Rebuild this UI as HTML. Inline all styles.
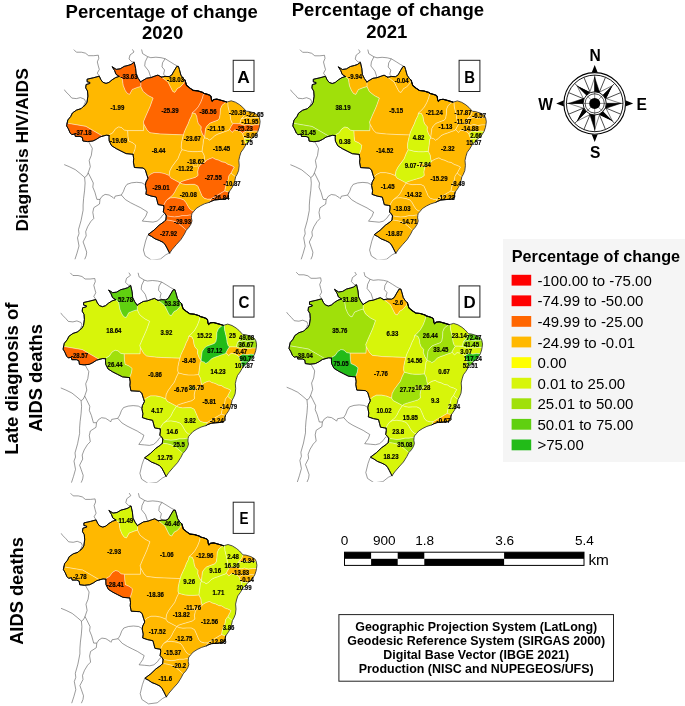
<!DOCTYPE html>
<html lang="en"><head><meta charset="utf-8"><title>Percentage of change</title>
<style>html,body{margin:0;padding:0;background:#fff}svg{display:block;will-change:transform}text{font-family:"Liberation Sans",sans-serif}</style></head><body>
<svg width="685" height="706" viewBox="0 0 685 706">
<rect width="685" height="706" fill="#fff"/>
<defs>
<clipPath id="clipA"><rect x="63.8" y="48" width="206" height="211.5"/></clipPath>
<clipPath id="clipB"><rect x="63.8" y="48" width="206" height="211.5"/></clipPath>
<clipPath id="clipC"><rect x="63.8" y="48" width="206" height="211.5"/></clipPath>
<clipPath id="clipD"><rect x="63.8" y="48" width="206" height="211.5"/></clipPath>
<clipPath id="clipE"><rect x="63.8" y="48" width="206" height="214.4"/></clipPath>
</defs>
<g transform="translate(0.0 0.0)">
<g fill="none" stroke="#484848" stroke-width="0.55" clip-path="url(#clipA)">
<path d="M73.8 49.6 L76.4 52.2 L81.5 52.2 L85.5 53.2 L88.6 55.7 L93.7 55.7 L98.3 55.2 L98.8 58.3 L97.3 61.9 L98.3 65.9 L99.3 69.5 L97.3 73.1 L99.3 76.0"/>
<path d="M132.4 49.4 L134.0 52.0 L130.0 55.0 L129.0 59.0 L132.0 62.0 L134.0 61.8"/>
<path d="M141.6 49.5 L142.6 53.6 L147.7 56.7 L145.2 61.8 L144.7 65.9 L148.7 71.0 L150.8 77.4"/>
<path d="M147.7 56.7 L150.8 57.7 L155.9 57.2 L161.0 57.7 L165.1 58.7 L170.2 61.8 L174.3 64.4 L177.4 66.0"/>
<path d="M165.1 58.7 L162.5 62.8 L162.0 66.9 L164.6 70.0 L163.6 74.1 L165.4 76.3"/>
<path d="M64.1 89.5 L66.1 92.0 L69.2 95.1 L71.8 98.1 L76.4 98.6 L80.4 97.6 L84.5 99.2 L85.5 101.7 L84.0 105.3 L83.2 106.4"/>
<path d="M88.7 141.8 L92.3 148.3 L91.3 155.4 L89.2 160.5 L90.3 166.7 L88.2 172.8 L86.7 175.9 L84.6 177.4"/>
<path d="M84.6 177.4 L80.5 173.8 L75.4 169.7 L69.3 166.7 L64.2 164.6"/>
<path d="M84.6 177.4 L85.1 183.0 L84.6 190.2 L83.6 198.4 L83.1 205.0 L83.1 210.2 L81.1 220.4 L78.5 229.6 L79.0 233.7 L77.5 237.8 L79.0 246.0 L77.0 253.1 L74.9 259.5"/>
<path d="M88.2 172.8 L90.3 176.9 L93.3 183.0 L92.8 187.1 L94.9 192.2 L96.9 199.4 L100.0 199.4 L102.0 196.3 L105.1 194.4 L109.1 195.0 L113.2 197.6 L114.2 198.6 L115.2 196.1 L121.3 195.0"/>
<path d="M121.3 195.0 L123.4 191.5 L124.9 187.4 L127.0 184.3 L131.6 182.8 L136.7 182.3 L141.8 182.8 L145.4 184.8"/>
<path d="M121.3 195.0 L125.4 199.6 L130.5 202.7 L135.7 205.3 L140.8 207.8 L144.9 210.4 L147.4 211.9 L145.9 216.0 L143.8 219.0 L142.3 221.1 L147.9 221.6 L153.0 222.1 L157.1 221.1 L160.7 218.0 L162.7 215.0 L164.3 213.9"/>
<path d="M100.0 199.4 L99.5 204.0 L93.8 207.7 L92.8 212.3 L93.8 218.4 L90.8 221.5 L87.7 226.6 L85.7 231.7 L86.2 235.8 L83.1 241.9 L84.6 246.0 L86.7 252.1 L86.2 255.7 L84.6 259.5"/>
<path d="M147.6 235.4 L145.6 241.0 L143.4 250.0 L145.1 255.8 L151.7 260.2 L160.4 259.1 L165.9 254.7 L169.4 253.0"/>
</g>
<g stroke="#ffffff" stroke-opacity="0.55" stroke-width="0.65" stroke-linejoin="round">
<path d="M67.1 123.2 L67.8 120.0 L70.7 116.5 L72.4 113.0 L76.5 110.1 L81.2 108.6 L83.2 106.6 L85.2 105.2 L87.0 102.2 L87.9 96.1 L87.5 91.0 L85.7 87.9 L86.1 84.5 L89.8 83.5 L89.8 82.4 L87.1 81.8 L87.1 79.2 L93.7 77.7 L99.3 76.2 L100.9 79.7 L102.9 82.3 L106.0 83.4 L109.0 82.4 L112.1 79.8 L115.6 77.6 L119.2 76.4 L122.3 78.9 L123.3 85.6 L125.3 90.4 L127.4 93.4 L129.6 94.2 L132.2 89.4 L137.2 87.4 L140.8 86.4 L143.2 91.4 L148.2 95.4 L153.2 98.0 L150.2 106.4 L146.2 115.4 L143.4 122.0 L144.0 124.5 L143.6 130.6 L127.6 130.6 L124.4 130.2 L121.5 127.6 L118.6 127.0 L115.6 128.8 L112.7 132.9 L109.6 134.6 L109.1 135.5 L106.3 135.2 L102.8 136.1 L101.0 135.2 L85.9 126.4 L67.1 123.2 Z" fill="#FFB800"/>
<path d="M140.7 82.0 L141.6 81.2 L146.7 78.2 L150.8 77.6 L154.9 76.1 L157.9 75.1 L161.5 77.1 L164.6 79.2 L168.2 82.2 L170.2 86.3 L172.8 91.4 L174.8 92.3 L177.4 88.4 L180.4 86.8 L183.5 83.3 L185.0 80.2 L186.5 85.3 L189.6 87.9 L193.2 90.4 L197.8 90.9 L202.9 92.5 L203.7 93.3 L202.6 97.7 L200.7 102.5 L198.2 106.9 L195.4 110.2 L192.4 112.8 L191.7 115.8 L189.7 119.6 L188.2 123.7 L186.2 127.8 L184.3 132.0 L183.5 134.9 L175.0 134.6 L160.0 134.0 L150.0 132.8 L147.0 130.0 L144.0 124.5 L143.4 122.0 L146.2 115.4 L150.2 106.4 L153.2 98.0 L148.2 95.4 L143.2 91.4 L140.8 86.4 L140.7 82.0 Z" fill="#FF6600"/>
<path d="M127.6 130.6 L143.6 130.6 L144.0 124.5 L147.0 130.0 L150.0 132.8 L160.0 134.0 L175.0 134.6 L183.5 134.9 L182.4 139.0 L181.5 143.5 L181.3 147.5 L182.0 149.6 L180.0 153.6 L178.0 158.7 L174.9 162.8 L171.9 166.9 L169.8 171.0 L169.2 175.6 L164.3 173.6 L159.2 172.6 L154.1 172.6 L150.0 174.6 L147.6 177.0 L146.9 175.1 L145.3 169.8 L143.0 168.0 L134.4 167.5 L133.4 162.1 L133.7 158.6 L133.0 154.3 L134.9 149.2 L135.5 145.1 L132.6 142.8 L128.5 141.0 L127.9 136.4 L127.6 130.6 Z" fill="#FFB800"/>
<path d="M246.4 143.8 L243.5 148.8 L241.0 152.2 L239.7 156.3 L238.8 160.4 L239.2 165.4 L238.6 170.5 L237.0 174.4 L235.6 176.8 L233.0 174.8 L231.0 173.0 L232.6 169.8 L234.2 167.0 L231.1 165.4 L228.0 164.4 L225.0 162.4 L221.9 161.9 L218.8 160.3 L215.3 159.3 L212.7 157.8 L209.6 158.8 L206.6 160.3 L205.5 161.5 L204.5 159.3 L204.0 155.2 L202.0 151.2 L203.0 144.0 L203.5 139.4 L204.8 137.6 L205.7 138.1 L207.7 138.6 L209.3 140.1 L211.8 138.6 L214.9 135.5 L217.9 134.0 L221.0 133.0 L225.1 131.4 L228.2 130.4 L229.6 129.4 L232.1 132.3 L234.6 129.9 L238.7 130.7 L241.2 132.0 L242.7 133.6 L243.5 136.2 L244.6 138.2 L245.2 142.0 L246.4 143.8 Z" fill="#FFB800"/>
<path d="M205.5 161.5 L206.6 160.3 L209.6 158.8 L212.7 157.8 L215.3 159.3 L218.8 160.3 L221.9 161.9 L225.0 162.4 L228.0 164.4 L231.1 165.4 L234.2 167.0 L232.6 169.8 L231.0 173.0 L228.9 175.9 L228.3 179.6 L226.7 183.3 L225.4 187.6 L224.8 191.0 L222.5 192.2 L217.5 195.2 L212.4 198.2 L210.7 199.2 L207.6 199.3 L204.0 198.2 L201.8 195.6 L200.4 192.2 L199.0 189.0 L197.7 186.0 L194.5 184.4 L190.2 184.4 L186.1 184.6 L182.5 184.0 L179.9 182.9 L181.4 181.6 L185.2 180.3 L190.3 178.8 L195.4 177.3 L198.0 175.4 L197.6 171.8 L198.4 167.7 L200.4 164.6 L204.0 162.6 L205.5 161.5 Z" fill="#FF6600"/>
<path d="M182.0 149.6 L184.5 150.2 L188.2 151.2 L192.3 151.6 L197.4 151.6 L202.0 151.2 L204.0 155.2 L204.5 159.3 L205.5 161.5 L204.0 162.6 L200.4 164.6 L198.4 167.7 L197.6 171.8 L198.0 175.4 L195.4 177.3 L190.3 178.8 L185.2 180.3 L181.4 181.6 L179.9 182.9 L174.9 180.2 L170.8 178.1 L169.2 175.6 L169.8 171.0 L171.9 166.9 L174.9 162.8 L178.0 158.7 L180.0 153.6 L182.0 149.6 Z" fill="#FFB800"/>
<path d="M192.4 112.8 L195.4 113.5 L196.9 116.6 L197.5 120.7 L198.5 123.7 L201.3 126.8 L201.0 129.9 L202.5 134.0 L204.8 137.6 L203.5 139.4 L203.0 144.0 L202.0 151.2 L197.4 151.6 L192.3 151.6 L188.2 151.2 L184.5 150.2 L182.0 149.6 L181.3 147.5 L181.5 143.5 L182.4 139.0 L183.5 134.9 L184.3 132.0 L186.2 127.8 L188.2 123.7 L189.7 119.6 L191.7 115.8 L192.4 112.8 Z" fill="#FFB800"/>
<path d="M203.7 93.3 L206.7 94.1 L209.8 95.2 L211.0 96.5 L211.5 99.8 L212.2 101.2 L213.6 99.6 L216.9 99.2 L221.0 100.3 L225.1 101.5 L226.6 102.0 L224.6 103.3 L222.0 105.4 L220.5 109.0 L220.2 114.1 L219.5 118.2 L217.9 120.2 L213.8 121.7 L209.8 123.3 L207.2 125.8 L205.7 128.4 L205.2 132.5 L204.7 136.5 L204.8 137.6 L202.5 134.0 L201.0 129.9 L201.3 126.8 L198.5 123.7 L197.5 120.7 L196.9 116.6 L195.4 113.5 L192.4 112.8 L195.4 110.2 L198.2 106.9 L200.7 102.5 L202.6 97.7 L203.7 93.3 Z" fill="#FF6600"/>
<path d="M226.6 102.0 L227.8 101.8 L228.2 106.9 L229.2 111.0 L230.2 115.1 L230.7 119.2 L231.7 122.2 L233.0 123.6 L231.2 126.3 L229.6 129.4 L228.2 130.4 L225.1 131.4 L221.0 133.0 L217.9 134.0 L214.9 135.5 L211.8 138.6 L209.3 140.1 L207.7 138.6 L205.7 138.1 L204.8 137.6 L204.7 136.5 L205.2 132.5 L205.7 128.4 L207.2 125.8 L209.8 123.3 L213.8 121.7 L217.9 120.2 L219.5 118.2 L220.2 114.1 L220.5 109.0 L222.0 105.4 L224.6 103.3 L226.6 102.0 Z" fill="#FFB800"/>
<path d="M119.2 76.4 L116.0 74.3 L114.6 70.6 L112.1 66.7 L116.2 69.4 L120.2 68.8 L124.2 66.4 L128.2 65.4 L131.2 64.4 L134.2 62.2 L135.6 68.4 L136.2 74.4 L138.2 78.4 L140.7 82.0 L140.8 86.4 L137.2 87.4 L132.2 89.4 L129.6 94.2 L127.4 93.4 L125.3 90.4 L123.3 85.6 L122.3 78.9 L119.2 76.4 Z" fill="#FF6600"/>
<path d="M161.5 77.1 L165.1 76.4 L169.2 76.6 L171.7 75.1 L174.3 70.5 L176.8 66.4 L178.4 66.4 L179.4 69.5 L180.9 75.1 L183.0 78.2 L185.0 80.2 L183.5 83.3 L180.4 86.8 L177.4 88.4 L174.8 92.3 L172.8 91.4 L170.2 86.3 L168.2 82.2 L164.6 79.2 L161.5 77.1 Z" fill="#FFB800"/>
<path d="M67.1 123.2 L85.9 126.4 L101.0 135.2 L102.8 136.1 L99.9 137.0 L96.4 139.3 L92.9 141.0 L87.6 141.6 L82.9 141.0 L82.4 137.5 L80.0 136.4 L75.3 136.4 L74.8 134.0 L71.8 134.6 L70.1 132.9 L68.3 128.8 L66.6 125.9 L67.1 123.2 Z" fill="#FF6600"/>
<path d="M109.1 135.5 L109.6 134.6 L112.7 132.9 L115.6 128.8 L118.6 127.0 L121.5 127.6 L124.4 130.2 L127.6 130.6 L127.9 136.4 L128.5 141.0 L132.6 142.8 L135.5 145.1 L134.9 149.2 L133.0 154.3 L126.1 153.6 L120.9 151.0 L116.2 148.6 L111.6 145.7 L109.2 141.0 L109.0 137.5 L109.1 135.5 Z" fill="#FFB800"/>
<path d="M227.8 101.8 L231.2 100.8 L235.5 102.2 L239.6 104.7 L242.7 107.3 L245.3 110.2 L246.3 111.2 L245.0 114.6 L243.0 117.1 L241.4 118.7 L240.4 121.7 L239.9 123.8 L236.3 123.6 L233.0 123.6 L231.7 122.2 L230.7 119.2 L230.2 115.1 L229.2 111.0 L228.2 106.9 L227.8 101.8 Z" fill="#FFB800"/>
<path d="M246.3 111.2 L249.0 111.4 L254.0 112.9 L258.0 115.2 L259.4 117.6 L254.7 117.6 L250.6 118.2 L247.6 117.1 L244.5 118.2 L241.4 118.7 L243.0 117.1 L245.0 114.6 L246.3 111.2 Z" fill="#FFB800"/>
<path d="M259.4 117.6 L260.1 121.5 L259.7 124.8 L255.7 124.8 L251.7 125.5 L247.6 124.4 L244.3 125.4 L239.9 123.8 L240.4 121.7 L241.4 118.7 L244.5 118.2 L247.6 117.1 L250.6 118.2 L254.7 117.6 L259.4 117.6 Z" fill="#FFB800"/>
<path d="M259.7 124.8 L259.2 127.4 L257.9 131.3 L254.2 131.0 L250.6 131.6 L246.5 131.0 L243.8 132.3 L242.7 133.6 L241.2 132.0 L238.7 130.7 L234.6 129.9 L232.1 132.3 L229.6 129.4 L231.2 126.3 L233.0 123.6 L236.3 123.6 L239.9 123.8 L244.3 125.4 L247.6 124.4 L251.7 125.5 L255.7 124.8 L259.7 124.8 Z" fill="#FF6600"/>
<path d="M257.9 131.3 L255.6 134.9 L253.2 137.5 L251.3 138.7 L248.0 138.7 L244.6 138.2 L243.5 136.2 L242.7 133.6 L243.8 132.3 L246.5 131.0 L250.6 131.6 L254.2 131.0 L257.9 131.3 Z" fill="#FFB800"/>
<path d="M251.3 138.7 L248.8 141.8 L246.4 143.8 L245.2 142.0 L244.6 138.2 L248.0 138.7 L251.3 138.7 Z" fill="#D7F50A"/>
<path d="M231.0 173.0 L233.0 174.8 L235.6 176.8 L234.8 180.6 L233.5 184.6 L232.1 187.5 L230.2 190.3 L228.9 192.2 L224.8 191.0 L225.4 187.6 L226.7 183.3 L228.3 179.6 L228.9 175.9 L231.0 173.0 Z" fill="#FFB800"/>
<path d="M210.7 199.2 L212.4 198.2 L217.5 195.2 L222.5 192.2 L224.8 191.0 L228.9 192.2 L228.4 194.4 L228.5 197.0 L227.0 198.5 L225.0 199.0 L221.9 199.3 L218.5 199.6 L214.6 200.0 L210.9 201.4 L209.6 202.2 L210.7 199.2 Z" fill="#FF6600"/>
<path d="M179.9 182.9 L182.5 184.0 L186.1 184.6 L190.2 184.4 L194.5 184.4 L197.7 186.0 L199.0 189.0 L200.4 192.2 L201.8 195.6 L204.0 198.2 L207.6 199.3 L210.7 199.2 L209.6 202.2 L204.5 203.8 L200.4 205.8 L196.3 208.4 L193.9 211.2 L191.8 210.6 L189.5 208.7 L187.8 206.1 L185.9 202.6 L183.7 199.9 L179.6 198.5 L174.5 197.7 L170.4 198.0 L166.8 199.9 L168.5 198.4 L172.4 195.3 L174.5 192.3 L176.5 188.2 L179.9 182.9 Z" fill="#FFB800"/>
<path d="M169.2 175.6 L170.8 178.1 L174.9 180.2 L179.9 182.9 L176.5 188.2 L174.5 192.3 L172.4 195.3 L168.5 198.4 L166.8 199.9 L164.8 203.0 L163.7 205.6 L162.2 205.3 L158.1 204.6 L157.1 200.7 L156.1 197.0 L151.0 196.0 L145.9 194.3 L146.4 190.4 L145.4 185.3 L145.9 182.3 L147.9 178.4 L147.6 177.0 L150.0 174.6 L154.1 172.6 L159.2 172.6 L164.3 173.6 L169.2 175.6 Z" fill="#FF6600"/>
<path d="M166.8 199.9 L170.4 198.0 L174.5 197.7 L179.6 198.5 L183.7 199.9 L185.9 202.6 L187.8 206.1 L189.5 208.7 L191.8 210.6 L193.9 211.2 L192.0 213.4 L191.6 215.2 L190.0 215.0 L186.7 215.6 L182.6 215.6 L178.5 216.6 L174.5 217.0 L170.4 216.5 L166.3 215.8 L165.2 213.9 L163.3 211.9 L163.9 207.8 L163.7 205.6 L164.8 203.0 L166.8 199.9 Z" fill="#FF6600"/>
<path d="M166.3 215.8 L170.4 216.5 L174.5 217.0 L178.5 216.6 L182.6 215.6 L186.7 215.6 L190.0 215.0 L191.6 215.2 L191.4 217.8 L192.0 220.9 L191.0 224.0 L189.0 227.2 L186.3 230.2 L184.2 228.2 L181.6 226.0 L178.5 223.4 L174.5 221.5 L170.4 220.5 L165.8 219.9 L166.3 215.8 Z" fill="#FF6600"/>
<path d="M165.8 219.9 L170.4 220.5 L174.5 221.5 L178.5 223.4 L181.6 226.0 L184.2 228.2 L186.3 230.2 L184.4 234.0 L181.0 239.4 L176.5 244.4 L172.2 249.4 L169.6 253.2 L168.5 251.0 L167.0 248.0 L165.3 244.9 L163.2 242.4 L159.1 240.4 L155.0 238.8 L151.5 236.4 L148.0 234.6 L154.0 230.1 L159.1 225.2 L164.2 221.6 L165.8 219.9 Z" fill="#FF6600"/>
<path d="M193.2 163.6 L197.6 163.6 L197.6 166.4 L193.2 166.4 Z" fill="#FFB800"/>
</g>
<path d="M67.1 123.2 L67.8 120.0 L70.7 116.5 L72.4 113.0 L76.5 110.1 L81.2 108.6 L83.2 106.6 L85.2 105.2 L87.0 102.2 L87.9 96.1 L87.5 91.0 L85.7 87.9 L86.1 84.5 L89.8 83.5 L89.8 82.4 L87.1 81.8 L87.1 79.2 L93.7 77.7 L99.3 76.2 L100.9 79.7 L102.9 82.3 L106.0 83.4 L109.0 82.4 L112.1 79.8 L115.6 77.6 L119.2 76.4 L116.0 74.3 L114.6 70.6 L112.1 66.7 L116.2 69.4 L120.2 68.8 L124.2 66.4 L128.2 65.4 L131.2 64.4 L134.2 62.2 L135.6 68.4 L136.2 74.4 L138.2 78.4 L140.7 82.0 L141.6 81.2 L146.7 78.2 L150.8 77.6 L154.9 76.1 L157.9 75.1 L161.5 77.1 L165.1 76.4 L169.2 76.6 L171.7 75.1 L174.3 70.5 L176.8 66.4 L178.4 66.4 L179.4 69.5 L180.9 75.1 L183.0 78.2 L185.0 80.2 L186.5 85.3 L189.6 87.9 L193.2 90.4 L197.8 90.9 L202.9 92.5 L203.7 93.3 L206.7 94.1 L209.8 95.2 L211.0 96.5 L211.5 99.8 L212.2 101.2 L213.6 99.6 L216.9 99.2 L221.0 100.3 L225.1 101.5 L226.6 102.0 L227.8 101.8 L231.2 100.8 L235.5 102.2 L239.6 104.7 L242.7 107.3 L245.3 110.2 L246.3 111.2 L249.0 111.4 L254.0 112.9 L258.0 115.2 L259.4 117.6 L260.1 121.5 L259.7 124.8 L259.2 127.4 L257.9 131.3 L255.6 134.9 L253.2 137.5 L251.3 138.7 L248.8 141.8 L246.4 143.8 L243.5 148.8 L241.0 152.2 L239.7 156.3 L238.8 160.4 L239.2 165.4 L238.6 170.5 L237.0 174.4 L235.6 176.8 L234.8 180.6 L233.5 184.6 L232.1 187.5 L230.2 190.3 L228.9 192.2 L228.4 194.4 L228.5 197.0 L227.0 198.5 L225.0 199.0 L221.9 199.3 L218.5 199.6 L214.6 200.0 L210.9 201.4 L209.6 202.2 L204.5 203.8 L200.4 205.8 L196.3 208.4 L193.9 211.2 L192.0 213.4 L191.6 215.2 L191.4 217.8 L192.0 220.9 L191.0 224.0 L189.0 227.2 L186.3 230.2 L184.4 234.0 L181.0 239.4 L176.5 244.4 L172.2 249.4 L169.6 253.2 L168.5 251.0 L167.0 248.0 L165.3 244.9 L163.2 242.4 L159.1 240.4 L155.0 238.8 L151.5 236.4 L148.0 234.6 L154.0 230.1 L159.1 225.2 L164.2 221.6 L165.8 219.9 L166.3 215.8 L165.2 213.9 L163.3 211.9 L163.9 207.8 L163.7 205.6 L162.2 205.3 L158.1 204.6 L157.1 200.7 L156.1 197.0 L151.0 196.0 L145.9 194.3 L146.4 190.4 L145.4 185.3 L145.9 182.3 L147.9 178.4 L147.6 177.0 L146.9 175.1 L145.3 169.8 L143.0 168.0 L134.4 167.5 L133.4 162.1 L133.7 158.6 L133.0 154.3 L126.1 153.6 L120.9 151.0 L116.2 148.6 L111.6 145.7 L109.2 141.0 L109.0 137.5 L109.1 135.5 L106.3 135.2 L102.8 136.1 L99.9 137.0 L96.4 139.3 L92.9 141.0 L87.6 141.6 L82.9 141.0 L82.4 137.5 L80.0 136.4 L75.3 136.4 L74.8 134.0 L71.8 134.6 L70.1 132.9 L68.3 128.8 L66.6 125.9 L67.1 123.2 Z" fill="none" stroke="#000" stroke-width="0.7" stroke-linejoin="miter"/>
<g fill="none" stroke="#000" stroke-width="0.9" stroke-linejoin="miter" stroke-linecap="round">
<path d="M67.1 123.2 L67.8 120.0 L70.7 116.5 L72.4 113.0 L76.5 110.1 L81.2 108.6 L83.2 106.6 L85.2 105.2 L87.0 102.2 L87.9 96.1 L87.5 91.0 L85.7 87.9 L86.1 84.5 L89.8 83.5 L89.8 82.4 L87.1 81.8 L87.1 79.2 L93.7 77.7 L99.3 76.2 L100.9 79.7 L102.9 82.3 L106.0 83.4 L109.0 82.4 L112.1 79.8 L115.6 77.6 L119.2 76.4"/>
<path d="M119.2 76.4 L116.0 74.3 L114.6 70.6 L112.1 66.7 L116.2 69.4 L120.2 68.8 L124.2 66.4 L128.2 65.4 L131.2 64.4 L134.2 62.2 L135.6 68.4 L136.2 74.4 L138.2 78.4 L140.7 82.0"/>
<path d="M140.7 82.0 L141.6 81.2 L146.7 78.2 L150.8 77.6 L154.9 76.1 L157.9 75.1 L161.5 77.1"/>
<path d="M161.5 77.1 L165.1 76.4 L169.2 76.6 L171.7 75.1 L174.3 70.5 L176.8 66.4 L178.4 66.4 L179.4 69.5 L180.9 75.1 L183.0 78.2 L185.0 80.2"/>
<path d="M185.0 80.2 L186.5 85.3 L189.6 87.9 L193.2 90.4 L197.8 90.9 L202.9 92.5 L203.7 93.3"/>
<path d="M203.7 93.3 L206.7 94.1 L209.8 95.2 L211.0 96.5 L211.5 99.8 L212.2 101.2 L213.6 99.6 L216.9 99.2 L221.0 100.3 L225.1 101.5 L226.6 102.0"/>
<path d="M67.1 123.2 L66.6 125.9 L68.3 128.8 L70.1 132.9 L71.8 134.6 L74.8 134.0 L75.3 136.4 L80.0 136.4 L82.4 137.5 L82.9 141.0 L87.6 141.6 L92.9 141.0 L96.4 139.3 L99.9 137.0 L102.8 136.1"/>
<path d="M102.8 136.1 L106.3 135.2 L109.1 135.5"/>
<path d="M109.1 135.5 L109.0 137.5 L109.2 141.0 L111.6 145.7 L116.2 148.6 L120.9 151.0 L126.1 153.6 L133.0 154.3"/>
<path d="M133.0 154.3 L133.7 158.6 L133.4 162.1 L134.4 167.5 L143.0 168.0 L145.3 169.8 L146.9 175.1 L147.6 177.0"/>
<path d="M147.6 177.0 L147.9 178.4 L145.9 182.3 L145.4 185.3 L146.4 190.4 L145.9 194.3 L151.0 196.0 L156.1 197.0 L157.1 200.7 L158.1 204.6 L162.2 205.3 L163.7 205.6"/>
<path d="M163.7 205.6 L163.9 207.8 L163.3 211.9 L165.2 213.9 L166.3 215.8"/>
<path d="M209.6 202.2 L210.9 201.4 L214.6 200.0 L218.5 199.6 L221.9 199.3 L225.0 199.0 L227.0 198.5 L228.5 197.0 L228.4 194.4 L228.9 192.2"/>
<path d="M165.8 219.9 L164.2 221.6 L159.1 225.2 L154.0 230.1 L148.0 234.6 L151.5 236.4 L155.0 238.8 L159.1 240.4 L163.2 242.4 L165.3 244.9 L167.0 248.0 L168.5 251.0 L169.6 253.2"/>
<path d="M166.3 215.8 L165.8 219.9"/>
<path stroke-width="1.15" d="M185.0 80.2 L186.5 85.3 L189.6 87.9 L193.2 90.4 L197.8 90.9 L202.9 92.5 L203.7 93.3 L206.7 94.1 L209.8 95.2 L211.0 96.5 L211.5 99.8 L212.2 101.2 L213.6 99.6 L216.9 99.2 L221.0 100.3 L225.1 101.5 L226.6 102.0"/>
</g>
<g font-size="6.5" font-weight="bold" text-anchor="middle" fill="#000" stroke="#000" stroke-width="0.16">
<text transform="translate(117.4 109.8) scale(0.93 1)">-1.99</text>
<text transform="translate(170.0 112.8) scale(0.93 1)">-25.39</text>
<text transform="translate(158.6 153.0) scale(0.93 1)">-8.44</text>
<text transform="translate(221.6 150.7) scale(0.93 1)">-15.45</text>
<text transform="translate(213.2 180.4) scale(0.93 1)">-27.55</text>
<text transform="translate(184.6 170.7) scale(0.93 1)">-11.22</text>
<text transform="translate(192.4 141.2) scale(0.93 1)">-23.67</text>
<text transform="translate(208.0 114.4) scale(0.93 1)">-36.56</text>
<text transform="translate(216.0 131.2) scale(0.93 1)">-21.15</text>
<text transform="translate(129.0 78.8) scale(0.93 1)">-33.63</text>
<text transform="translate(175.5 82.2) scale(0.93 1)">-18.03</text>
<text transform="translate(83.0 134.7) scale(0.93 1)">-37.18</text>
<text transform="translate(118.6 143.2) scale(0.93 1)">-19.69</text>
<text transform="translate(237.5 114.6) scale(0.93 1)">-20.35</text>
<text transform="translate(255.1 116.7) scale(0.93 1)">-22.65</text>
<text transform="translate(250.0 124.0) scale(0.93 1)">-11.95</text>
<text transform="translate(244.3 130.7) scale(0.93 1)">-25.23</text>
<text transform="translate(251.0 137.9) scale(0.93 1)">-8.09</text>
<text transform="translate(246.9 144.7) scale(0.93 1)">1.75</text>
<text transform="translate(232.1 186.0) scale(0.93 1)">-10.87</text>
<text transform="translate(220.8 200.0) scale(0.93 1)">-26.84</text>
<text transform="translate(188.2 196.8) scale(0.93 1)">-20.08</text>
<text transform="translate(161.0 189.5) scale(0.93 1)">-29.01</text>
<text transform="translate(175.8 210.6) scale(0.93 1)">-27.48</text>
<text transform="translate(182.5 223.5) scale(0.93 1)">-28.93</text>
<text transform="translate(168.6 236.2) scale(0.93 1)">-27.92</text>
<text transform="translate(195.8 163.8) scale(0.93 1)">-18.62</text>
</g>
</g>
<g transform="translate(226.2 0.1)">
<g fill="none" stroke="#484848" stroke-width="0.55" clip-path="url(#clipB)">
<path d="M73.8 49.6 L76.4 52.2 L81.5 52.2 L85.5 53.2 L88.6 55.7 L93.7 55.7 L98.3 55.2 L98.8 58.3 L97.3 61.9 L98.3 65.9 L99.3 69.5 L97.3 73.1 L99.3 76.0"/>
<path d="M132.4 49.4 L134.0 52.0 L130.0 55.0 L129.0 59.0 L132.0 62.0 L134.0 61.8"/>
<path d="M141.6 49.5 L142.6 53.6 L147.7 56.7 L145.2 61.8 L144.7 65.9 L148.7 71.0 L150.8 77.4"/>
<path d="M147.7 56.7 L150.8 57.7 L155.9 57.2 L161.0 57.7 L165.1 58.7 L170.2 61.8 L174.3 64.4 L177.4 66.0"/>
<path d="M165.1 58.7 L162.5 62.8 L162.0 66.9 L164.6 70.0 L163.6 74.1 L165.4 76.3"/>
<path d="M64.1 89.5 L66.1 92.0 L69.2 95.1 L71.8 98.1 L76.4 98.6 L80.4 97.6 L84.5 99.2 L85.5 101.7 L84.0 105.3 L83.2 106.4"/>
<path d="M88.7 141.8 L92.3 148.3 L91.3 155.4 L89.2 160.5 L90.3 166.7 L88.2 172.8 L86.7 175.9 L84.6 177.4"/>
<path d="M84.6 177.4 L80.5 173.8 L75.4 169.7 L69.3 166.7 L64.2 164.6"/>
<path d="M84.6 177.4 L85.1 183.0 L84.6 190.2 L83.6 198.4 L83.1 205.0 L83.1 210.2 L81.1 220.4 L78.5 229.6 L79.0 233.7 L77.5 237.8 L79.0 246.0 L77.0 253.1 L74.9 259.5"/>
<path d="M88.2 172.8 L90.3 176.9 L93.3 183.0 L92.8 187.1 L94.9 192.2 L96.9 199.4 L100.0 199.4 L102.0 196.3 L105.1 194.4 L109.1 195.0 L113.2 197.6 L114.2 198.6 L115.2 196.1 L121.3 195.0"/>
<path d="M121.3 195.0 L123.4 191.5 L124.9 187.4 L127.0 184.3 L131.6 182.8 L136.7 182.3 L141.8 182.8 L145.4 184.8"/>
<path d="M121.3 195.0 L125.4 199.6 L130.5 202.7 L135.7 205.3 L140.8 207.8 L144.9 210.4 L147.4 211.9 L145.9 216.0 L143.8 219.0 L142.3 221.1 L147.9 221.6 L153.0 222.1 L157.1 221.1 L160.7 218.0 L162.7 215.0 L164.3 213.9"/>
<path d="M100.0 199.4 L99.5 204.0 L93.8 207.7 L92.8 212.3 L93.8 218.4 L90.8 221.5 L87.7 226.6 L85.7 231.7 L86.2 235.8 L83.1 241.9 L84.6 246.0 L86.7 252.1 L86.2 255.7 L84.6 259.5"/>
<path d="M147.6 235.4 L145.6 241.0 L143.4 250.0 L145.1 255.8 L151.7 260.2 L160.4 259.1 L165.9 254.7 L169.4 253.0"/>
</g>
<g stroke="#ffffff" stroke-opacity="0.55" stroke-width="0.65" stroke-linejoin="round">
<path d="M67.1 123.2 L67.8 120.0 L70.7 116.5 L72.4 113.0 L76.5 110.1 L81.2 108.6 L83.2 106.6 L85.2 105.2 L87.0 102.2 L87.9 96.1 L87.5 91.0 L85.7 87.9 L86.1 84.5 L89.8 83.5 L89.8 82.4 L87.1 81.8 L87.1 79.2 L93.7 77.7 L99.3 76.2 L100.9 79.7 L102.9 82.3 L106.0 83.4 L109.0 82.4 L112.1 79.8 L115.6 77.6 L119.2 76.4 L122.3 78.9 L123.3 85.6 L125.3 90.4 L127.4 93.4 L129.6 94.2 L132.2 89.4 L137.2 87.4 L140.8 86.4 L143.2 91.4 L148.2 95.4 L153.2 98.0 L150.2 106.4 L146.2 115.4 L143.4 122.0 L144.0 124.5 L143.6 130.6 L127.6 130.6 L124.4 130.2 L121.5 127.6 L118.6 127.0 L115.6 128.8 L112.7 132.9 L109.6 134.6 L109.1 135.5 L106.3 135.2 L102.8 136.1 L101.0 135.2 L85.9 126.4 L67.1 123.2 Z" fill="#A0E00A"/>
<path d="M140.7 82.0 L141.6 81.2 L146.7 78.2 L150.8 77.6 L154.9 76.1 L157.9 75.1 L161.5 77.1 L164.6 79.2 L168.2 82.2 L170.2 86.3 L172.8 91.4 L174.8 92.3 L177.4 88.4 L180.4 86.8 L183.5 83.3 L185.0 80.2 L186.5 85.3 L189.6 87.9 L193.2 90.4 L197.8 90.9 L202.9 92.5 L203.7 93.3 L202.6 97.7 L200.7 102.5 L198.2 106.9 L195.4 110.2 L192.4 112.8 L191.7 115.8 L189.7 119.6 L188.2 123.7 L186.2 127.8 L184.3 132.0 L183.5 134.9 L175.0 134.6 L160.0 134.0 L150.0 132.8 L147.0 130.0 L144.0 124.5 L143.4 122.0 L146.2 115.4 L150.2 106.4 L153.2 98.0 L148.2 95.4 L143.2 91.4 L140.8 86.4 L140.7 82.0 Z" fill="#FFB800"/>
<path d="M127.6 130.6 L143.6 130.6 L144.0 124.5 L147.0 130.0 L150.0 132.8 L160.0 134.0 L175.0 134.6 L183.5 134.9 L182.4 139.0 L181.5 143.5 L181.3 147.5 L182.0 149.6 L180.0 153.6 L178.0 158.7 L174.9 162.8 L171.9 166.9 L169.8 171.0 L169.2 175.6 L164.3 173.6 L159.2 172.6 L154.1 172.6 L150.0 174.6 L147.6 177.0 L146.9 175.1 L145.3 169.8 L143.0 168.0 L134.4 167.5 L133.4 162.1 L133.7 158.6 L133.0 154.3 L134.9 149.2 L135.5 145.1 L132.6 142.8 L128.5 141.0 L127.9 136.4 L127.6 130.6 Z" fill="#FFB800"/>
<path d="M246.4 143.8 L243.5 148.8 L241.0 152.2 L239.7 156.3 L238.8 160.4 L239.2 165.4 L238.6 170.5 L237.0 174.4 L235.6 176.8 L233.0 174.8 L231.0 173.0 L232.6 169.8 L234.2 167.0 L231.1 165.4 L228.0 164.4 L225.0 162.4 L221.9 161.9 L218.8 160.3 L215.3 159.3 L212.7 157.8 L209.6 158.8 L206.6 160.3 L205.5 161.5 L204.5 159.3 L204.0 155.2 L202.0 151.2 L203.0 144.0 L203.5 139.4 L204.8 137.6 L205.7 138.1 L207.7 138.6 L209.3 140.1 L211.8 138.6 L214.9 135.5 L217.9 134.0 L221.0 133.0 L225.1 131.4 L228.2 130.4 L229.6 129.4 L232.1 132.3 L234.6 129.9 L238.7 130.7 L241.2 132.0 L242.7 133.6 L243.5 136.2 L244.6 138.2 L245.2 142.0 L246.4 143.8 Z" fill="#FFB800"/>
<path d="M205.5 161.5 L206.6 160.3 L209.6 158.8 L212.7 157.8 L215.3 159.3 L218.8 160.3 L221.9 161.9 L225.0 162.4 L228.0 164.4 L231.1 165.4 L234.2 167.0 L232.6 169.8 L231.0 173.0 L228.9 175.9 L228.3 179.6 L226.7 183.3 L225.4 187.6 L224.8 191.0 L222.5 192.2 L217.5 195.2 L212.4 198.2 L210.7 199.2 L207.6 199.3 L204.0 198.2 L201.8 195.6 L200.4 192.2 L199.0 189.0 L197.7 186.0 L194.5 184.4 L190.2 184.4 L186.1 184.6 L182.5 184.0 L179.9 182.9 L181.4 181.6 L185.2 180.3 L190.3 178.8 L195.4 177.3 L198.0 175.4 L197.6 171.8 L198.4 167.7 L200.4 164.6 L204.0 162.6 L205.5 161.5 Z" fill="#FFB800"/>
<path d="M182.0 149.6 L184.5 150.2 L188.2 151.2 L192.3 151.6 L197.4 151.6 L202.0 151.2 L204.0 155.2 L204.5 159.3 L205.5 161.5 L204.0 162.6 L200.4 164.6 L198.4 167.7 L197.6 171.8 L198.0 175.4 L195.4 177.3 L190.3 178.8 L185.2 180.3 L181.4 181.6 L179.9 182.9 L174.9 180.2 L170.8 178.1 L169.2 175.6 L169.8 171.0 L171.9 166.9 L174.9 162.8 L178.0 158.7 L180.0 153.6 L182.0 149.6 Z" fill="#D7F50A"/>
<path d="M192.4 112.8 L195.4 113.5 L196.9 116.6 L197.5 120.7 L198.5 123.7 L201.3 126.8 L201.0 129.9 L202.5 134.0 L204.8 137.6 L203.5 139.4 L203.0 144.0 L202.0 151.2 L197.4 151.6 L192.3 151.6 L188.2 151.2 L184.5 150.2 L182.0 149.6 L181.3 147.5 L181.5 143.5 L182.4 139.0 L183.5 134.9 L184.3 132.0 L186.2 127.8 L188.2 123.7 L189.7 119.6 L191.7 115.8 L192.4 112.8 Z" fill="#D7F50A"/>
<path d="M203.7 93.3 L206.7 94.1 L209.8 95.2 L211.0 96.5 L211.5 99.8 L212.2 101.2 L213.6 99.6 L216.9 99.2 L221.0 100.3 L225.1 101.5 L226.6 102.0 L224.6 103.3 L222.0 105.4 L220.5 109.0 L220.2 114.1 L219.5 118.2 L217.9 120.2 L213.8 121.7 L209.8 123.3 L207.2 125.8 L205.7 128.4 L205.2 132.5 L204.7 136.5 L204.8 137.6 L202.5 134.0 L201.0 129.9 L201.3 126.8 L198.5 123.7 L197.5 120.7 L196.9 116.6 L195.4 113.5 L192.4 112.8 L195.4 110.2 L198.2 106.9 L200.7 102.5 L202.6 97.7 L203.7 93.3 Z" fill="#FFB800"/>
<path d="M226.6 102.0 L227.8 101.8 L228.2 106.9 L229.2 111.0 L230.2 115.1 L230.7 119.2 L231.7 122.2 L233.0 123.6 L231.2 126.3 L229.6 129.4 L228.2 130.4 L225.1 131.4 L221.0 133.0 L217.9 134.0 L214.9 135.5 L211.8 138.6 L209.3 140.1 L207.7 138.6 L205.7 138.1 L204.8 137.6 L204.7 136.5 L205.2 132.5 L205.7 128.4 L207.2 125.8 L209.8 123.3 L213.8 121.7 L217.9 120.2 L219.5 118.2 L220.2 114.1 L220.5 109.0 L222.0 105.4 L224.6 103.3 L226.6 102.0 Z" fill="#FFB800"/>
<path d="M119.2 76.4 L116.0 74.3 L114.6 70.6 L112.1 66.7 L116.2 69.4 L120.2 68.8 L124.2 66.4 L128.2 65.4 L131.2 64.4 L134.2 62.2 L135.6 68.4 L136.2 74.4 L138.2 78.4 L140.7 82.0 L140.8 86.4 L137.2 87.4 L132.2 89.4 L129.6 94.2 L127.4 93.4 L125.3 90.4 L123.3 85.6 L122.3 78.9 L119.2 76.4 Z" fill="#FFB800"/>
<path d="M161.5 77.1 L165.1 76.4 L169.2 76.6 L171.7 75.1 L174.3 70.5 L176.8 66.4 L178.4 66.4 L179.4 69.5 L180.9 75.1 L183.0 78.2 L185.0 80.2 L183.5 83.3 L180.4 86.8 L177.4 88.4 L174.8 92.3 L172.8 91.4 L170.2 86.3 L168.2 82.2 L164.6 79.2 L161.5 77.1 Z" fill="#FFB800"/>
<path d="M67.1 123.2 L85.9 126.4 L101.0 135.2 L102.8 136.1 L99.9 137.0 L96.4 139.3 L92.9 141.0 L87.6 141.6 L82.9 141.0 L82.4 137.5 L80.0 136.4 L75.3 136.4 L74.8 134.0 L71.8 134.6 L70.1 132.9 L68.3 128.8 L66.6 125.9 L67.1 123.2 Z" fill="#A0E00A"/>
<path d="M109.1 135.5 L109.6 134.6 L112.7 132.9 L115.6 128.8 L118.6 127.0 L121.5 127.6 L124.4 130.2 L127.6 130.6 L127.9 136.4 L128.5 141.0 L132.6 142.8 L135.5 145.1 L134.9 149.2 L133.0 154.3 L126.1 153.6 L120.9 151.0 L116.2 148.6 L111.6 145.7 L109.2 141.0 L109.0 137.5 L109.1 135.5 Z" fill="#D7F50A"/>
<path d="M227.8 101.8 L231.2 100.8 L235.5 102.2 L239.6 104.7 L242.7 107.3 L245.3 110.2 L246.3 111.2 L245.0 114.6 L243.0 117.1 L241.4 118.7 L240.4 121.7 L239.9 123.8 L236.3 123.6 L233.0 123.6 L231.7 122.2 L230.7 119.2 L230.2 115.1 L229.2 111.0 L228.2 106.9 L227.8 101.8 Z" fill="#FFB800"/>
<path d="M246.3 111.2 L249.0 111.4 L254.0 112.9 L258.0 115.2 L259.4 117.6 L254.7 117.6 L250.6 118.2 L247.6 117.1 L244.5 118.2 L241.4 118.7 L243.0 117.1 L245.0 114.6 L246.3 111.2 Z" fill="#FFB800"/>
<path d="M259.4 117.6 L260.1 121.5 L259.7 124.8 L255.7 124.8 L251.7 125.5 L247.6 124.4 L244.3 125.4 L239.9 123.8 L240.4 121.7 L241.4 118.7 L244.5 118.2 L247.6 117.1 L250.6 118.2 L254.7 117.6 L259.4 117.6 Z" fill="#FFB800"/>
<path d="M259.7 124.8 L259.2 127.4 L257.9 131.3 L254.2 131.0 L250.6 131.6 L246.5 131.0 L243.8 132.3 L242.7 133.6 L241.2 132.0 L238.7 130.7 L234.6 129.9 L232.1 132.3 L229.6 129.4 L231.2 126.3 L233.0 123.6 L236.3 123.6 L239.9 123.8 L244.3 125.4 L247.6 124.4 L251.7 125.5 L255.7 124.8 L259.7 124.8 Z" fill="#FFB800"/>
<path d="M257.9 131.3 L255.6 134.9 L253.2 137.5 L251.3 138.7 L248.0 138.7 L244.6 138.2 L243.5 136.2 L242.7 133.6 L243.8 132.3 L246.5 131.0 L250.6 131.6 L254.2 131.0 L257.9 131.3 Z" fill="#D7F50A"/>
<path d="M251.3 138.7 L248.8 141.8 L246.4 143.8 L245.2 142.0 L244.6 138.2 L248.0 138.7 L251.3 138.7 Z" fill="#D7F50A"/>
<path d="M231.0 173.0 L233.0 174.8 L235.6 176.8 L234.8 180.6 L233.5 184.6 L232.1 187.5 L230.2 190.3 L228.9 192.2 L224.8 191.0 L225.4 187.6 L226.7 183.3 L228.3 179.6 L228.9 175.9 L231.0 173.0 Z" fill="#FFB800"/>
<path d="M210.7 199.2 L212.4 198.2 L217.5 195.2 L222.5 192.2 L224.8 191.0 L228.9 192.2 L228.4 194.4 L228.5 197.0 L227.0 198.5 L225.0 199.0 L221.9 199.3 L218.5 199.6 L214.6 200.0 L210.9 201.4 L209.6 202.2 L210.7 199.2 Z" fill="#FFB800"/>
<path d="M179.9 182.9 L182.5 184.0 L186.1 184.6 L190.2 184.4 L194.5 184.4 L197.7 186.0 L199.0 189.0 L200.4 192.2 L201.8 195.6 L204.0 198.2 L207.6 199.3 L210.7 199.2 L209.6 202.2 L204.5 203.8 L200.4 205.8 L196.3 208.4 L193.9 211.2 L191.8 210.6 L189.5 208.7 L187.8 206.1 L185.9 202.6 L183.7 199.9 L179.6 198.5 L174.5 197.7 L170.4 198.0 L166.8 199.9 L168.5 198.4 L172.4 195.3 L174.5 192.3 L176.5 188.2 L179.9 182.9 Z" fill="#FFB800"/>
<path d="M169.2 175.6 L170.8 178.1 L174.9 180.2 L179.9 182.9 L176.5 188.2 L174.5 192.3 L172.4 195.3 L168.5 198.4 L166.8 199.9 L164.8 203.0 L163.7 205.6 L162.2 205.3 L158.1 204.6 L157.1 200.7 L156.1 197.0 L151.0 196.0 L145.9 194.3 L146.4 190.4 L145.4 185.3 L145.9 182.3 L147.9 178.4 L147.6 177.0 L150.0 174.6 L154.1 172.6 L159.2 172.6 L164.3 173.6 L169.2 175.6 Z" fill="#FFB800"/>
<path d="M166.8 199.9 L170.4 198.0 L174.5 197.7 L179.6 198.5 L183.7 199.9 L185.9 202.6 L187.8 206.1 L189.5 208.7 L191.8 210.6 L193.9 211.2 L192.0 213.4 L191.6 215.2 L190.0 215.0 L186.7 215.6 L182.6 215.6 L178.5 216.6 L174.5 217.0 L170.4 216.5 L166.3 215.8 L165.2 213.9 L163.3 211.9 L163.9 207.8 L163.7 205.6 L164.8 203.0 L166.8 199.9 Z" fill="#FFB800"/>
<path d="M166.3 215.8 L170.4 216.5 L174.5 217.0 L178.5 216.6 L182.6 215.6 L186.7 215.6 L190.0 215.0 L191.6 215.2 L191.4 217.8 L192.0 220.9 L191.0 224.0 L189.0 227.2 L186.3 230.2 L184.2 228.2 L181.6 226.0 L178.5 223.4 L174.5 221.5 L170.4 220.5 L165.8 219.9 L166.3 215.8 Z" fill="#FFB800"/>
<path d="M165.8 219.9 L170.4 220.5 L174.5 221.5 L178.5 223.4 L181.6 226.0 L184.2 228.2 L186.3 230.2 L184.4 234.0 L181.0 239.4 L176.5 244.4 L172.2 249.4 L169.6 253.2 L168.5 251.0 L167.0 248.0 L165.3 244.9 L163.2 242.4 L159.1 240.4 L155.0 238.8 L151.5 236.4 L148.0 234.6 L154.0 230.1 L159.1 225.2 L164.2 221.6 L165.8 219.9 Z" fill="#FFB800"/>
<path d="M193.2 163.6 L197.6 163.6 L197.6 166.4 L193.2 166.4 Z" fill="#FFB800"/>
</g>
<path d="M67.1 123.2 L67.8 120.0 L70.7 116.5 L72.4 113.0 L76.5 110.1 L81.2 108.6 L83.2 106.6 L85.2 105.2 L87.0 102.2 L87.9 96.1 L87.5 91.0 L85.7 87.9 L86.1 84.5 L89.8 83.5 L89.8 82.4 L87.1 81.8 L87.1 79.2 L93.7 77.7 L99.3 76.2 L100.9 79.7 L102.9 82.3 L106.0 83.4 L109.0 82.4 L112.1 79.8 L115.6 77.6 L119.2 76.4 L116.0 74.3 L114.6 70.6 L112.1 66.7 L116.2 69.4 L120.2 68.8 L124.2 66.4 L128.2 65.4 L131.2 64.4 L134.2 62.2 L135.6 68.4 L136.2 74.4 L138.2 78.4 L140.7 82.0 L141.6 81.2 L146.7 78.2 L150.8 77.6 L154.9 76.1 L157.9 75.1 L161.5 77.1 L165.1 76.4 L169.2 76.6 L171.7 75.1 L174.3 70.5 L176.8 66.4 L178.4 66.4 L179.4 69.5 L180.9 75.1 L183.0 78.2 L185.0 80.2 L186.5 85.3 L189.6 87.9 L193.2 90.4 L197.8 90.9 L202.9 92.5 L203.7 93.3 L206.7 94.1 L209.8 95.2 L211.0 96.5 L211.5 99.8 L212.2 101.2 L213.6 99.6 L216.9 99.2 L221.0 100.3 L225.1 101.5 L226.6 102.0 L227.8 101.8 L231.2 100.8 L235.5 102.2 L239.6 104.7 L242.7 107.3 L245.3 110.2 L246.3 111.2 L249.0 111.4 L254.0 112.9 L258.0 115.2 L259.4 117.6 L260.1 121.5 L259.7 124.8 L259.2 127.4 L257.9 131.3 L255.6 134.9 L253.2 137.5 L251.3 138.7 L248.8 141.8 L246.4 143.8 L243.5 148.8 L241.0 152.2 L239.7 156.3 L238.8 160.4 L239.2 165.4 L238.6 170.5 L237.0 174.4 L235.6 176.8 L234.8 180.6 L233.5 184.6 L232.1 187.5 L230.2 190.3 L228.9 192.2 L228.4 194.4 L228.5 197.0 L227.0 198.5 L225.0 199.0 L221.9 199.3 L218.5 199.6 L214.6 200.0 L210.9 201.4 L209.6 202.2 L204.5 203.8 L200.4 205.8 L196.3 208.4 L193.9 211.2 L192.0 213.4 L191.6 215.2 L191.4 217.8 L192.0 220.9 L191.0 224.0 L189.0 227.2 L186.3 230.2 L184.4 234.0 L181.0 239.4 L176.5 244.4 L172.2 249.4 L169.6 253.2 L168.5 251.0 L167.0 248.0 L165.3 244.9 L163.2 242.4 L159.1 240.4 L155.0 238.8 L151.5 236.4 L148.0 234.6 L154.0 230.1 L159.1 225.2 L164.2 221.6 L165.8 219.9 L166.3 215.8 L165.2 213.9 L163.3 211.9 L163.9 207.8 L163.7 205.6 L162.2 205.3 L158.1 204.6 L157.1 200.7 L156.1 197.0 L151.0 196.0 L145.9 194.3 L146.4 190.4 L145.4 185.3 L145.9 182.3 L147.9 178.4 L147.6 177.0 L146.9 175.1 L145.3 169.8 L143.0 168.0 L134.4 167.5 L133.4 162.1 L133.7 158.6 L133.0 154.3 L126.1 153.6 L120.9 151.0 L116.2 148.6 L111.6 145.7 L109.2 141.0 L109.0 137.5 L109.1 135.5 L106.3 135.2 L102.8 136.1 L99.9 137.0 L96.4 139.3 L92.9 141.0 L87.6 141.6 L82.9 141.0 L82.4 137.5 L80.0 136.4 L75.3 136.4 L74.8 134.0 L71.8 134.6 L70.1 132.9 L68.3 128.8 L66.6 125.9 L67.1 123.2 Z" fill="none" stroke="#000" stroke-width="0.7" stroke-linejoin="miter"/>
<g fill="none" stroke="#000" stroke-width="0.9" stroke-linejoin="miter" stroke-linecap="round">
<path d="M67.1 123.2 L67.8 120.0 L70.7 116.5 L72.4 113.0 L76.5 110.1 L81.2 108.6 L83.2 106.6 L85.2 105.2 L87.0 102.2 L87.9 96.1 L87.5 91.0 L85.7 87.9 L86.1 84.5 L89.8 83.5 L89.8 82.4 L87.1 81.8 L87.1 79.2 L93.7 77.7 L99.3 76.2 L100.9 79.7 L102.9 82.3 L106.0 83.4 L109.0 82.4 L112.1 79.8 L115.6 77.6 L119.2 76.4"/>
<path d="M119.2 76.4 L116.0 74.3 L114.6 70.6 L112.1 66.7 L116.2 69.4 L120.2 68.8 L124.2 66.4 L128.2 65.4 L131.2 64.4 L134.2 62.2 L135.6 68.4 L136.2 74.4 L138.2 78.4 L140.7 82.0"/>
<path d="M140.7 82.0 L141.6 81.2 L146.7 78.2 L150.8 77.6 L154.9 76.1 L157.9 75.1 L161.5 77.1"/>
<path d="M161.5 77.1 L165.1 76.4 L169.2 76.6 L171.7 75.1 L174.3 70.5 L176.8 66.4 L178.4 66.4 L179.4 69.5 L180.9 75.1 L183.0 78.2 L185.0 80.2"/>
<path d="M185.0 80.2 L186.5 85.3 L189.6 87.9 L193.2 90.4 L197.8 90.9 L202.9 92.5 L203.7 93.3"/>
<path d="M203.7 93.3 L206.7 94.1 L209.8 95.2 L211.0 96.5 L211.5 99.8 L212.2 101.2 L213.6 99.6 L216.9 99.2 L221.0 100.3 L225.1 101.5 L226.6 102.0"/>
<path d="M67.1 123.2 L66.6 125.9 L68.3 128.8 L70.1 132.9 L71.8 134.6 L74.8 134.0 L75.3 136.4 L80.0 136.4 L82.4 137.5 L82.9 141.0 L87.6 141.6 L92.9 141.0 L96.4 139.3 L99.9 137.0 L102.8 136.1"/>
<path d="M102.8 136.1 L106.3 135.2 L109.1 135.5"/>
<path d="M109.1 135.5 L109.0 137.5 L109.2 141.0 L111.6 145.7 L116.2 148.6 L120.9 151.0 L126.1 153.6 L133.0 154.3"/>
<path d="M133.0 154.3 L133.7 158.6 L133.4 162.1 L134.4 167.5 L143.0 168.0 L145.3 169.8 L146.9 175.1 L147.6 177.0"/>
<path d="M147.6 177.0 L147.9 178.4 L145.9 182.3 L145.4 185.3 L146.4 190.4 L145.9 194.3 L151.0 196.0 L156.1 197.0 L157.1 200.7 L158.1 204.6 L162.2 205.3 L163.7 205.6"/>
<path d="M163.7 205.6 L163.9 207.8 L163.3 211.9 L165.2 213.9 L166.3 215.8"/>
<path d="M209.6 202.2 L210.9 201.4 L214.6 200.0 L218.5 199.6 L221.9 199.3 L225.0 199.0 L227.0 198.5 L228.5 197.0 L228.4 194.4 L228.9 192.2"/>
<path d="M165.8 219.9 L164.2 221.6 L159.1 225.2 L154.0 230.1 L148.0 234.6 L151.5 236.4 L155.0 238.8 L159.1 240.4 L163.2 242.4 L165.3 244.9 L167.0 248.0 L168.5 251.0 L169.6 253.2"/>
<path d="M166.3 215.8 L165.8 219.9"/>
<path stroke-width="1.15" d="M185.0 80.2 L186.5 85.3 L189.6 87.9 L193.2 90.4 L197.8 90.9 L202.9 92.5 L203.7 93.3 L206.7 94.1 L209.8 95.2 L211.0 96.5 L211.5 99.8 L212.2 101.2 L213.6 99.6 L216.9 99.2 L221.0 100.3 L225.1 101.5 L226.6 102.0"/>
</g>
<g font-size="6.5" font-weight="bold" text-anchor="middle" fill="#000" stroke="#000" stroke-width="0.16">
<text transform="translate(116.8 110.2) scale(0.93 1)">38.19</text>
<text transform="translate(170.0 113.1) scale(0.93 1)">-5.15</text>
<text transform="translate(158.6 153.3) scale(0.93 1)">-14.52</text>
<text transform="translate(221.6 151.0) scale(0.93 1)">-2.32</text>
<text transform="translate(212.8 180.7) scale(0.93 1)">-15.29</text>
<text transform="translate(184.3 168.3) scale(0.93 1)">9.07</text>
<text transform="translate(192.4 139.9) scale(0.93 1)">4.82</text>
<text transform="translate(208.0 114.7) scale(0.93 1)">-21.24</text>
<text transform="translate(219.3 129.3) scale(0.93 1)">-1.13</text>
<text transform="translate(129.0 79.1) scale(0.93 1)">-9.94</text>
<text transform="translate(175.5 82.5) scale(0.93 1)">-0.04</text>
<text transform="translate(82.2 135.2) scale(0.93 1)">31.45</text>
<text transform="translate(118.6 143.5) scale(0.93 1)">0.38</text>
<text transform="translate(236.8 115.0) scale(0.93 1)">-17.87</text>
<text transform="translate(253.0 118.0) scale(0.93 1)">-6.57</text>
<text transform="translate(236.8 124.2) scale(0.93 1)">-11.97</text>
<text transform="translate(243.8 131.0) scale(0.93 1)">-14.88</text>
<text transform="translate(249.8 137.6) scale(0.93 1)">2.66</text>
<text transform="translate(247.6 144.9) scale(0.93 1)">15.57</text>
<text transform="translate(231.8 186.1) scale(0.93 1)">-8.49</text>
<text transform="translate(220.1 200.0) scale(0.93 1)">-12.23</text>
<text transform="translate(187.0 196.5) scale(0.93 1)">-14.32</text>
<text transform="translate(161.5 189.3) scale(0.93 1)">-1.45</text>
<text transform="translate(175.8 210.9) scale(0.93 1)">-13.03</text>
<text transform="translate(182.5 223.8) scale(0.93 1)">-14.71</text>
<text transform="translate(168.2 235.8) scale(0.93 1)">-18.87</text>
<text transform="translate(197.8 167.2) scale(0.93 1)">-7.84</text>
</g>
</g>
<g transform="translate(-3.5 223.3)">
<g fill="none" stroke="#484848" stroke-width="0.55" clip-path="url(#clipC)">
<path d="M73.8 49.6 L76.4 52.2 L81.5 52.2 L85.5 53.2 L88.6 55.7 L93.7 55.7 L98.3 55.2 L98.8 58.3 L97.3 61.9 L98.3 65.9 L99.3 69.5 L97.3 73.1 L99.3 76.0"/>
<path d="M132.4 49.4 L134.0 52.0 L130.0 55.0 L129.0 59.0 L132.0 62.0 L134.0 61.8"/>
<path d="M141.6 49.5 L142.6 53.6 L147.7 56.7 L145.2 61.8 L144.7 65.9 L148.7 71.0 L150.8 77.4"/>
<path d="M147.7 56.7 L150.8 57.7 L155.9 57.2 L161.0 57.7 L165.1 58.7 L170.2 61.8 L174.3 64.4 L177.4 66.0"/>
<path d="M165.1 58.7 L162.5 62.8 L162.0 66.9 L164.6 70.0 L163.6 74.1 L165.4 76.3"/>
<path d="M64.1 89.5 L66.1 92.0 L69.2 95.1 L71.8 98.1 L76.4 98.6 L80.4 97.6 L84.5 99.2 L85.5 101.7 L84.0 105.3 L83.2 106.4"/>
<path d="M88.7 141.8 L92.3 148.3 L91.3 155.4 L89.2 160.5 L90.3 166.7 L88.2 172.8 L86.7 175.9 L84.6 177.4"/>
<path d="M84.6 177.4 L80.5 173.8 L75.4 169.7 L69.3 166.7 L64.2 164.6"/>
<path d="M84.6 177.4 L85.1 183.0 L84.6 190.2 L83.6 198.4 L83.1 205.0 L83.1 210.2 L81.1 220.4 L78.5 229.6 L79.0 233.7 L77.5 237.8 L79.0 246.0 L77.0 253.1 L74.9 259.5"/>
<path d="M88.2 172.8 L90.3 176.9 L93.3 183.0 L92.8 187.1 L94.9 192.2 L96.9 199.4 L100.0 199.4 L102.0 196.3 L105.1 194.4 L109.1 195.0 L113.2 197.6 L114.2 198.6 L115.2 196.1 L121.3 195.0"/>
<path d="M121.3 195.0 L123.4 191.5 L124.9 187.4 L127.0 184.3 L131.6 182.8 L136.7 182.3 L141.8 182.8 L145.4 184.8"/>
<path d="M121.3 195.0 L125.4 199.6 L130.5 202.7 L135.7 205.3 L140.8 207.8 L144.9 210.4 L147.4 211.9 L145.9 216.0 L143.8 219.0 L142.3 221.1 L147.9 221.6 L153.0 222.1 L157.1 221.1 L160.7 218.0 L162.7 215.0 L164.3 213.9"/>
<path d="M100.0 199.4 L99.5 204.0 L93.8 207.7 L92.8 212.3 L93.8 218.4 L90.8 221.5 L87.7 226.6 L85.7 231.7 L86.2 235.8 L83.1 241.9 L84.6 246.0 L86.7 252.1 L86.2 255.7 L84.6 259.5"/>
<path d="M147.6 235.4 L145.6 241.0 L143.4 250.0 L145.1 255.8 L151.7 260.2 L160.4 259.1 L165.9 254.7 L169.4 253.0"/>
</g>
<g stroke="#ffffff" stroke-opacity="0.55" stroke-width="0.65" stroke-linejoin="round">
<path d="M67.1 123.2 L67.8 120.0 L70.7 116.5 L72.4 113.0 L76.5 110.1 L81.2 108.6 L83.2 106.6 L85.2 105.2 L87.0 102.2 L87.9 96.1 L87.5 91.0 L85.7 87.9 L86.1 84.5 L89.8 83.5 L89.8 82.4 L87.1 81.8 L87.1 79.2 L93.7 77.7 L99.3 76.2 L100.9 79.7 L102.9 82.3 L106.0 83.4 L109.0 82.4 L112.1 79.8 L115.6 77.6 L119.2 76.4 L122.3 78.9 L123.3 85.6 L125.3 90.4 L127.4 93.4 L129.6 94.2 L132.2 89.4 L137.2 87.4 L140.8 86.4 L143.2 91.4 L148.2 95.4 L153.2 98.0 L150.2 106.4 L146.2 115.4 L143.4 122.0 L144.0 124.5 L143.6 130.6 L127.6 130.6 L124.4 130.2 L121.5 127.6 L118.6 127.0 L115.6 128.8 L112.7 132.9 L109.6 134.6 L109.1 135.5 L106.3 135.2 L102.8 136.1 L101.0 135.2 L85.9 126.4 L67.1 123.2 Z" fill="#D7F50A"/>
<path d="M140.7 82.0 L141.6 81.2 L146.7 78.2 L150.8 77.6 L154.9 76.1 L157.9 75.1 L161.5 77.1 L164.6 79.2 L168.2 82.2 L170.2 86.3 L172.8 91.4 L174.8 92.3 L177.4 88.4 L180.4 86.8 L183.5 83.3 L185.0 80.2 L186.5 85.3 L189.6 87.9 L193.2 90.4 L197.8 90.9 L202.9 92.5 L203.7 93.3 L202.6 97.7 L200.7 102.5 L198.2 106.9 L195.4 110.2 L192.4 112.8 L191.7 115.8 L189.7 119.6 L188.2 123.7 L186.2 127.8 L184.3 132.0 L183.5 134.9 L175.0 134.6 L160.0 134.0 L150.0 132.8 L147.0 130.0 L144.0 124.5 L143.4 122.0 L146.2 115.4 L150.2 106.4 L153.2 98.0 L148.2 95.4 L143.2 91.4 L140.8 86.4 L140.7 82.0 Z" fill="#D7F50A"/>
<path d="M127.6 130.6 L143.6 130.6 L144.0 124.5 L147.0 130.0 L150.0 132.8 L160.0 134.0 L175.0 134.6 L183.5 134.9 L182.4 139.0 L181.5 143.5 L181.3 147.5 L182.0 149.6 L180.0 153.6 L178.0 158.7 L174.9 162.8 L171.9 166.9 L169.8 171.0 L169.2 175.6 L164.3 173.6 L159.2 172.6 L154.1 172.6 L150.0 174.6 L147.6 177.0 L146.9 175.1 L145.3 169.8 L143.0 168.0 L134.4 167.5 L133.4 162.1 L133.7 158.6 L133.0 154.3 L134.9 149.2 L135.5 145.1 L132.6 142.8 L128.5 141.0 L127.9 136.4 L127.6 130.6 Z" fill="#FFB800"/>
<path d="M246.4 143.8 L243.5 148.8 L241.0 152.2 L239.7 156.3 L238.8 160.4 L239.2 165.4 L238.6 170.5 L237.0 174.4 L235.6 176.8 L233.0 174.8 L231.0 173.0 L232.6 169.8 L234.2 167.0 L231.1 165.4 L228.0 164.4 L225.0 162.4 L221.9 161.9 L218.8 160.3 L215.3 159.3 L212.7 157.8 L209.6 158.8 L206.6 160.3 L205.5 161.5 L204.5 159.3 L204.0 155.2 L202.0 151.2 L203.0 144.0 L203.5 139.4 L204.8 137.6 L205.7 138.1 L207.7 138.6 L209.3 140.1 L211.8 138.6 L214.9 135.5 L217.9 134.0 L221.0 133.0 L225.1 131.4 L228.2 130.4 L229.6 129.4 L232.1 132.3 L234.6 129.9 L238.7 130.7 L241.2 132.0 L242.7 133.6 L243.5 136.2 L244.6 138.2 L245.2 142.0 L246.4 143.8 Z" fill="#D7F50A"/>
<path d="M205.5 161.5 L206.6 160.3 L209.6 158.8 L212.7 157.8 L215.3 159.3 L218.8 160.3 L221.9 161.9 L225.0 162.4 L228.0 164.4 L231.1 165.4 L234.2 167.0 L232.6 169.8 L231.0 173.0 L228.9 175.9 L228.3 179.6 L226.7 183.3 L225.4 187.6 L224.8 191.0 L222.5 192.2 L217.5 195.2 L212.4 198.2 L210.7 199.2 L207.6 199.3 L204.0 198.2 L201.8 195.6 L200.4 192.2 L199.0 189.0 L197.7 186.0 L194.5 184.4 L190.2 184.4 L186.1 184.6 L182.5 184.0 L179.9 182.9 L181.4 181.6 L185.2 180.3 L190.3 178.8 L195.4 177.3 L198.0 175.4 L197.6 171.8 L198.4 167.7 L200.4 164.6 L204.0 162.6 L205.5 161.5 Z" fill="#FFB800"/>
<path d="M182.0 149.6 L184.5 150.2 L188.2 151.2 L192.3 151.6 L197.4 151.6 L202.0 151.2 L204.0 155.2 L204.5 159.3 L205.5 161.5 L204.0 162.6 L200.4 164.6 L198.4 167.7 L197.6 171.8 L198.0 175.4 L195.4 177.3 L190.3 178.8 L185.2 180.3 L181.4 181.6 L179.9 182.9 L174.9 180.2 L170.8 178.1 L169.2 175.6 L169.8 171.0 L171.9 166.9 L174.9 162.8 L178.0 158.7 L180.0 153.6 L182.0 149.6 Z" fill="#FFB800"/>
<path d="M192.4 112.8 L195.4 113.5 L196.9 116.6 L197.5 120.7 L198.5 123.7 L201.3 126.8 L201.0 129.9 L202.5 134.0 L204.8 137.6 L203.5 139.4 L203.0 144.0 L202.0 151.2 L197.4 151.6 L192.3 151.6 L188.2 151.2 L184.5 150.2 L182.0 149.6 L181.3 147.5 L181.5 143.5 L182.4 139.0 L183.5 134.9 L184.3 132.0 L186.2 127.8 L188.2 123.7 L189.7 119.6 L191.7 115.8 L192.4 112.8 Z" fill="#FFB800"/>
<path d="M203.7 93.3 L206.7 94.1 L209.8 95.2 L211.0 96.5 L211.5 99.8 L212.2 101.2 L213.6 99.6 L216.9 99.2 L221.0 100.3 L225.1 101.5 L226.6 102.0 L224.6 103.3 L222.0 105.4 L220.5 109.0 L220.2 114.1 L219.5 118.2 L217.9 120.2 L213.8 121.7 L209.8 123.3 L207.2 125.8 L205.7 128.4 L205.2 132.5 L204.7 136.5 L204.8 137.6 L202.5 134.0 L201.0 129.9 L201.3 126.8 L198.5 123.7 L197.5 120.7 L196.9 116.6 L195.4 113.5 L192.4 112.8 L195.4 110.2 L198.2 106.9 L200.7 102.5 L202.6 97.7 L203.7 93.3 Z" fill="#D7F50A"/>
<path d="M226.6 102.0 L227.8 101.8 L228.2 106.9 L229.2 111.0 L230.2 115.1 L230.7 119.2 L231.7 122.2 L233.0 123.6 L231.2 126.3 L229.6 129.4 L228.2 130.4 L225.1 131.4 L221.0 133.0 L217.9 134.0 L214.9 135.5 L211.8 138.6 L209.3 140.1 L207.7 138.6 L205.7 138.1 L204.8 137.6 L204.7 136.5 L205.2 132.5 L205.7 128.4 L207.2 125.8 L209.8 123.3 L213.8 121.7 L217.9 120.2 L219.5 118.2 L220.2 114.1 L220.5 109.0 L222.0 105.4 L224.6 103.3 L226.6 102.0 Z" fill="#22BB18"/>
<path d="M119.2 76.4 L116.0 74.3 L114.6 70.6 L112.1 66.7 L116.2 69.4 L120.2 68.8 L124.2 66.4 L128.2 65.4 L131.2 64.4 L134.2 62.2 L135.6 68.4 L136.2 74.4 L138.2 78.4 L140.7 82.0 L140.8 86.4 L137.2 87.4 L132.2 89.4 L129.6 94.2 L127.4 93.4 L125.3 90.4 L123.3 85.6 L122.3 78.9 L119.2 76.4 Z" fill="#60D010"/>
<path d="M161.5 77.1 L165.1 76.4 L169.2 76.6 L171.7 75.1 L174.3 70.5 L176.8 66.4 L178.4 66.4 L179.4 69.5 L180.9 75.1 L183.0 78.2 L185.0 80.2 L183.5 83.3 L180.4 86.8 L177.4 88.4 L174.8 92.3 L172.8 91.4 L170.2 86.3 L168.2 82.2 L164.6 79.2 L161.5 77.1 Z" fill="#60D010"/>
<path d="M67.1 123.2 L85.9 126.4 L101.0 135.2 L102.8 136.1 L99.9 137.0 L96.4 139.3 L92.9 141.0 L87.6 141.6 L82.9 141.0 L82.4 137.5 L80.0 136.4 L75.3 136.4 L74.8 134.0 L71.8 134.6 L70.1 132.9 L68.3 128.8 L66.6 125.9 L67.1 123.2 Z" fill="#FF6600"/>
<path d="M109.1 135.5 L109.6 134.6 L112.7 132.9 L115.6 128.8 L118.6 127.0 L121.5 127.6 L124.4 130.2 L127.6 130.6 L127.9 136.4 L128.5 141.0 L132.6 142.8 L135.5 145.1 L134.9 149.2 L133.0 154.3 L126.1 153.6 L120.9 151.0 L116.2 148.6 L111.6 145.7 L109.2 141.0 L109.0 137.5 L109.1 135.5 Z" fill="#A0E00A"/>
<path d="M227.8 101.8 L231.2 100.8 L235.5 102.2 L239.6 104.7 L242.7 107.3 L245.3 110.2 L246.3 111.2 L245.0 114.6 L243.0 117.1 L241.4 118.7 L240.4 121.7 L239.9 123.8 L236.3 123.6 L233.0 123.6 L231.7 122.2 L230.7 119.2 L230.2 115.1 L229.2 111.0 L228.2 106.9 L227.8 101.8 Z" fill="#D7F50A"/>
<path d="M246.3 111.2 L249.0 111.4 L254.0 112.9 L258.0 115.2 L259.4 117.6 L254.7 117.6 L250.6 118.2 L247.6 117.1 L244.5 118.2 L241.4 118.7 L243.0 117.1 L245.0 114.6 L246.3 111.2 Z" fill="#A0E00A"/>
<path d="M259.4 117.6 L260.1 121.5 L259.7 124.8 L255.7 124.8 L251.7 125.5 L247.6 124.4 L244.3 125.4 L239.9 123.8 L240.4 121.7 L241.4 118.7 L244.5 118.2 L247.6 117.1 L250.6 118.2 L254.7 117.6 L259.4 117.6 Z" fill="#A0E00A"/>
<path d="M259.7 124.8 L259.2 127.4 L257.9 131.3 L254.2 131.0 L250.6 131.6 L246.5 131.0 L243.8 132.3 L242.7 133.6 L241.2 132.0 L238.7 130.7 L234.6 129.9 L232.1 132.3 L229.6 129.4 L231.2 126.3 L233.0 123.6 L236.3 123.6 L239.9 123.8 L244.3 125.4 L247.6 124.4 L251.7 125.5 L255.7 124.8 L259.7 124.8 Z" fill="#FFB800"/>
<path d="M257.9 131.3 L255.6 134.9 L253.2 137.5 L251.3 138.7 L248.0 138.7 L244.6 138.2 L243.5 136.2 L242.7 133.6 L243.8 132.3 L246.5 131.0 L250.6 131.6 L254.2 131.0 L257.9 131.3 Z" fill="#22BB18"/>
<path d="M251.3 138.7 L248.8 141.8 L246.4 143.8 L245.2 142.0 L244.6 138.2 L248.0 138.7 L251.3 138.7 Z" fill="#22BB18"/>
<path d="M231.0 173.0 L233.0 174.8 L235.6 176.8 L234.8 180.6 L233.5 184.6 L232.1 187.5 L230.2 190.3 L228.9 192.2 L224.8 191.0 L225.4 187.6 L226.7 183.3 L228.3 179.6 L228.9 175.9 L231.0 173.0 Z" fill="#FFB800"/>
<path d="M210.7 199.2 L212.4 198.2 L217.5 195.2 L222.5 192.2 L224.8 191.0 L228.9 192.2 L228.4 194.4 L228.5 197.0 L227.0 198.5 L225.0 199.0 L221.9 199.3 L218.5 199.6 L214.6 200.0 L210.9 201.4 L209.6 202.2 L210.7 199.2 Z" fill="#FFB800"/>
<path d="M179.9 182.9 L182.5 184.0 L186.1 184.6 L190.2 184.4 L194.5 184.4 L197.7 186.0 L199.0 189.0 L200.4 192.2 L201.8 195.6 L204.0 198.2 L207.6 199.3 L210.7 199.2 L209.6 202.2 L204.5 203.8 L200.4 205.8 L196.3 208.4 L193.9 211.2 L191.8 210.6 L189.5 208.7 L187.8 206.1 L185.9 202.6 L183.7 199.9 L179.6 198.5 L174.5 197.7 L170.4 198.0 L166.8 199.9 L168.5 198.4 L172.4 195.3 L174.5 192.3 L176.5 188.2 L179.9 182.9 Z" fill="#D7F50A"/>
<path d="M169.2 175.6 L170.8 178.1 L174.9 180.2 L179.9 182.9 L176.5 188.2 L174.5 192.3 L172.4 195.3 L168.5 198.4 L166.8 199.9 L164.8 203.0 L163.7 205.6 L162.2 205.3 L158.1 204.6 L157.1 200.7 L156.1 197.0 L151.0 196.0 L145.9 194.3 L146.4 190.4 L145.4 185.3 L145.9 182.3 L147.9 178.4 L147.6 177.0 L150.0 174.6 L154.1 172.6 L159.2 172.6 L164.3 173.6 L169.2 175.6 Z" fill="#D7F50A"/>
<path d="M166.8 199.9 L170.4 198.0 L174.5 197.7 L179.6 198.5 L183.7 199.9 L185.9 202.6 L187.8 206.1 L189.5 208.7 L191.8 210.6 L193.9 211.2 L192.0 213.4 L191.6 215.2 L190.0 215.0 L186.7 215.6 L182.6 215.6 L178.5 216.6 L174.5 217.0 L170.4 216.5 L166.3 215.8 L165.2 213.9 L163.3 211.9 L163.9 207.8 L163.7 205.6 L164.8 203.0 L166.8 199.9 Z" fill="#D7F50A"/>
<path d="M166.3 215.8 L170.4 216.5 L174.5 217.0 L178.5 216.6 L182.6 215.6 L186.7 215.6 L190.0 215.0 L191.6 215.2 L191.4 217.8 L192.0 220.9 L191.0 224.0 L189.0 227.2 L186.3 230.2 L184.2 228.2 L181.6 226.0 L178.5 223.4 L174.5 221.5 L170.4 220.5 L165.8 219.9 L166.3 215.8 Z" fill="#A0E00A"/>
<path d="M165.8 219.9 L170.4 220.5 L174.5 221.5 L178.5 223.4 L181.6 226.0 L184.2 228.2 L186.3 230.2 L184.4 234.0 L181.0 239.4 L176.5 244.4 L172.2 249.4 L169.6 253.2 L168.5 251.0 L167.0 248.0 L165.3 244.9 L163.2 242.4 L159.1 240.4 L155.0 238.8 L151.5 236.4 L148.0 234.6 L154.0 230.1 L159.1 225.2 L164.2 221.6 L165.8 219.9 Z" fill="#D7F50A"/>
<path d="M193.2 163.6 L197.6 163.6 L197.6 166.4 L193.2 166.4 Z" fill="#A0E00A"/>
</g>
<path d="M67.1 123.2 L67.8 120.0 L70.7 116.5 L72.4 113.0 L76.5 110.1 L81.2 108.6 L83.2 106.6 L85.2 105.2 L87.0 102.2 L87.9 96.1 L87.5 91.0 L85.7 87.9 L86.1 84.5 L89.8 83.5 L89.8 82.4 L87.1 81.8 L87.1 79.2 L93.7 77.7 L99.3 76.2 L100.9 79.7 L102.9 82.3 L106.0 83.4 L109.0 82.4 L112.1 79.8 L115.6 77.6 L119.2 76.4 L116.0 74.3 L114.6 70.6 L112.1 66.7 L116.2 69.4 L120.2 68.8 L124.2 66.4 L128.2 65.4 L131.2 64.4 L134.2 62.2 L135.6 68.4 L136.2 74.4 L138.2 78.4 L140.7 82.0 L141.6 81.2 L146.7 78.2 L150.8 77.6 L154.9 76.1 L157.9 75.1 L161.5 77.1 L165.1 76.4 L169.2 76.6 L171.7 75.1 L174.3 70.5 L176.8 66.4 L178.4 66.4 L179.4 69.5 L180.9 75.1 L183.0 78.2 L185.0 80.2 L186.5 85.3 L189.6 87.9 L193.2 90.4 L197.8 90.9 L202.9 92.5 L203.7 93.3 L206.7 94.1 L209.8 95.2 L211.0 96.5 L211.5 99.8 L212.2 101.2 L213.6 99.6 L216.9 99.2 L221.0 100.3 L225.1 101.5 L226.6 102.0 L227.8 101.8 L231.2 100.8 L235.5 102.2 L239.6 104.7 L242.7 107.3 L245.3 110.2 L246.3 111.2 L249.0 111.4 L254.0 112.9 L258.0 115.2 L259.4 117.6 L260.1 121.5 L259.7 124.8 L259.2 127.4 L257.9 131.3 L255.6 134.9 L253.2 137.5 L251.3 138.7 L248.8 141.8 L246.4 143.8 L243.5 148.8 L241.0 152.2 L239.7 156.3 L238.8 160.4 L239.2 165.4 L238.6 170.5 L237.0 174.4 L235.6 176.8 L234.8 180.6 L233.5 184.6 L232.1 187.5 L230.2 190.3 L228.9 192.2 L228.4 194.4 L228.5 197.0 L227.0 198.5 L225.0 199.0 L221.9 199.3 L218.5 199.6 L214.6 200.0 L210.9 201.4 L209.6 202.2 L204.5 203.8 L200.4 205.8 L196.3 208.4 L193.9 211.2 L192.0 213.4 L191.6 215.2 L191.4 217.8 L192.0 220.9 L191.0 224.0 L189.0 227.2 L186.3 230.2 L184.4 234.0 L181.0 239.4 L176.5 244.4 L172.2 249.4 L169.6 253.2 L168.5 251.0 L167.0 248.0 L165.3 244.9 L163.2 242.4 L159.1 240.4 L155.0 238.8 L151.5 236.4 L148.0 234.6 L154.0 230.1 L159.1 225.2 L164.2 221.6 L165.8 219.9 L166.3 215.8 L165.2 213.9 L163.3 211.9 L163.9 207.8 L163.7 205.6 L162.2 205.3 L158.1 204.6 L157.1 200.7 L156.1 197.0 L151.0 196.0 L145.9 194.3 L146.4 190.4 L145.4 185.3 L145.9 182.3 L147.9 178.4 L147.6 177.0 L146.9 175.1 L145.3 169.8 L143.0 168.0 L134.4 167.5 L133.4 162.1 L133.7 158.6 L133.0 154.3 L126.1 153.6 L120.9 151.0 L116.2 148.6 L111.6 145.7 L109.2 141.0 L109.0 137.5 L109.1 135.5 L106.3 135.2 L102.8 136.1 L99.9 137.0 L96.4 139.3 L92.9 141.0 L87.6 141.6 L82.9 141.0 L82.4 137.5 L80.0 136.4 L75.3 136.4 L74.8 134.0 L71.8 134.6 L70.1 132.9 L68.3 128.8 L66.6 125.9 L67.1 123.2 Z" fill="none" stroke="#000" stroke-width="0.7" stroke-linejoin="miter"/>
<g fill="none" stroke="#000" stroke-width="0.9" stroke-linejoin="miter" stroke-linecap="round">
<path d="M67.1 123.2 L67.8 120.0 L70.7 116.5 L72.4 113.0 L76.5 110.1 L81.2 108.6 L83.2 106.6 L85.2 105.2 L87.0 102.2 L87.9 96.1 L87.5 91.0 L85.7 87.9 L86.1 84.5 L89.8 83.5 L89.8 82.4 L87.1 81.8 L87.1 79.2 L93.7 77.7 L99.3 76.2 L100.9 79.7 L102.9 82.3 L106.0 83.4 L109.0 82.4 L112.1 79.8 L115.6 77.6 L119.2 76.4"/>
<path d="M119.2 76.4 L116.0 74.3 L114.6 70.6 L112.1 66.7 L116.2 69.4 L120.2 68.8 L124.2 66.4 L128.2 65.4 L131.2 64.4 L134.2 62.2 L135.6 68.4 L136.2 74.4 L138.2 78.4 L140.7 82.0"/>
<path d="M140.7 82.0 L141.6 81.2 L146.7 78.2 L150.8 77.6 L154.9 76.1 L157.9 75.1 L161.5 77.1"/>
<path d="M161.5 77.1 L165.1 76.4 L169.2 76.6 L171.7 75.1 L174.3 70.5 L176.8 66.4 L178.4 66.4 L179.4 69.5 L180.9 75.1 L183.0 78.2 L185.0 80.2"/>
<path d="M185.0 80.2 L186.5 85.3 L189.6 87.9 L193.2 90.4 L197.8 90.9 L202.9 92.5 L203.7 93.3"/>
<path d="M203.7 93.3 L206.7 94.1 L209.8 95.2 L211.0 96.5 L211.5 99.8 L212.2 101.2 L213.6 99.6 L216.9 99.2 L221.0 100.3 L225.1 101.5 L226.6 102.0"/>
<path d="M67.1 123.2 L66.6 125.9 L68.3 128.8 L70.1 132.9 L71.8 134.6 L74.8 134.0 L75.3 136.4 L80.0 136.4 L82.4 137.5 L82.9 141.0 L87.6 141.6 L92.9 141.0 L96.4 139.3 L99.9 137.0 L102.8 136.1"/>
<path d="M102.8 136.1 L106.3 135.2 L109.1 135.5"/>
<path d="M109.1 135.5 L109.0 137.5 L109.2 141.0 L111.6 145.7 L116.2 148.6 L120.9 151.0 L126.1 153.6 L133.0 154.3"/>
<path d="M133.0 154.3 L133.7 158.6 L133.4 162.1 L134.4 167.5 L143.0 168.0 L145.3 169.8 L146.9 175.1 L147.6 177.0"/>
<path d="M147.6 177.0 L147.9 178.4 L145.9 182.3 L145.4 185.3 L146.4 190.4 L145.9 194.3 L151.0 196.0 L156.1 197.0 L157.1 200.7 L158.1 204.6 L162.2 205.3 L163.7 205.6"/>
<path d="M163.7 205.6 L163.9 207.8 L163.3 211.9 L165.2 213.9 L166.3 215.8"/>
<path d="M209.6 202.2 L210.9 201.4 L214.6 200.0 L218.5 199.6 L221.9 199.3 L225.0 199.0 L227.0 198.5 L228.5 197.0 L228.4 194.4 L228.9 192.2"/>
<path d="M165.8 219.9 L164.2 221.6 L159.1 225.2 L154.0 230.1 L148.0 234.6 L151.5 236.4 L155.0 238.8 L159.1 240.4 L163.2 242.4 L165.3 244.9 L167.0 248.0 L168.5 251.0 L169.6 253.2"/>
<path d="M166.3 215.8 L165.8 219.9"/>
<path stroke-width="1.15" d="M185.0 80.2 L186.5 85.3 L189.6 87.9 L193.2 90.4 L197.8 90.9 L202.9 92.5 L203.7 93.3 L206.7 94.1 L209.8 95.2 L211.0 96.5 L211.5 99.8 L212.2 101.2 L213.6 99.6 L216.9 99.2 L221.0 100.3 L225.1 101.5 L226.6 102.0"/>
</g>
<g font-size="6.5" font-weight="bold" text-anchor="middle" fill="#000" stroke="#000" stroke-width="0.16">
<text transform="translate(117.4 110.0) scale(0.93 1)">18.64</text>
<text transform="translate(169.9 112.1) scale(0.93 1)">3.92</text>
<text transform="translate(158.6 153.2) scale(0.93 1)">-0.86</text>
<text transform="translate(221.6 150.9) scale(0.93 1)">14.23</text>
<text transform="translate(212.8 180.6) scale(0.93 1)">-5.81</text>
<text transform="translate(184.4 168.2) scale(0.93 1)">-6.76</text>
<text transform="translate(192.4 139.8) scale(0.93 1)">-8.45</text>
<text transform="translate(208.0 114.6) scale(0.93 1)">15.22</text>
<text transform="translate(218.4 129.4) scale(0.93 1)">87.12</text>
<text transform="translate(129.0 79.0) scale(0.93 1)">52.78</text>
<text transform="translate(175.5 82.4) scale(0.93 1)">53.33</text>
<text transform="translate(83.0 134.9) scale(0.93 1)">-28.57</text>
<text transform="translate(118.6 143.4) scale(0.93 1)">26.44</text>
<text transform="translate(235.9 115.1) scale(0.93 1)">25</text>
<text transform="translate(250.1 116.5) scale(0.93 1)">49.68</text>
<text transform="translate(249.5 123.7) scale(0.93 1)">36.67</text>
<text transform="translate(243.8 130.9) scale(0.93 1)">-6.47</text>
<text transform="translate(250.6 138.1) scale(0.93 1)">90.72</text>
<text transform="translate(247.4 145.0) scale(0.93 1)">107.87</text>
<text transform="translate(232.1 185.5) scale(0.93 1)">-14.79</text>
<text transform="translate(220.4 199.8) scale(0.93 1)">-5.24</text>
<text transform="translate(193.6 199.9) scale(0.93 1)">3.82</text>
<text transform="translate(160.7 189.6) scale(0.93 1)">4.17</text>
<text transform="translate(175.8 210.8) scale(0.93 1)">14.6</text>
<text transform="translate(182.5 223.7) scale(0.93 1)">25.5</text>
<text transform="translate(168.6 236.4) scale(0.93 1)">12.75</text>
<text transform="translate(199.8 167.1) scale(0.93 1)">36.75</text>
</g>
</g>
<g transform="translate(222.4 222.6)">
<g fill="none" stroke="#484848" stroke-width="0.55" clip-path="url(#clipD)">
<path d="M73.8 49.6 L76.4 52.2 L81.5 52.2 L85.5 53.2 L88.6 55.7 L93.7 55.7 L98.3 55.2 L98.8 58.3 L97.3 61.9 L98.3 65.9 L99.3 69.5 L97.3 73.1 L99.3 76.0"/>
<path d="M132.4 49.4 L134.0 52.0 L130.0 55.0 L129.0 59.0 L132.0 62.0 L134.0 61.8"/>
<path d="M141.6 49.5 L142.6 53.6 L147.7 56.7 L145.2 61.8 L144.7 65.9 L148.7 71.0 L150.8 77.4"/>
<path d="M147.7 56.7 L150.8 57.7 L155.9 57.2 L161.0 57.7 L165.1 58.7 L170.2 61.8 L174.3 64.4 L177.4 66.0"/>
<path d="M165.1 58.7 L162.5 62.8 L162.0 66.9 L164.6 70.0 L163.6 74.1 L165.4 76.3"/>
<path d="M64.1 89.5 L66.1 92.0 L69.2 95.1 L71.8 98.1 L76.4 98.6 L80.4 97.6 L84.5 99.2 L85.5 101.7 L84.0 105.3 L83.2 106.4"/>
<path d="M88.7 141.8 L92.3 148.3 L91.3 155.4 L89.2 160.5 L90.3 166.7 L88.2 172.8 L86.7 175.9 L84.6 177.4"/>
<path d="M84.6 177.4 L80.5 173.8 L75.4 169.7 L69.3 166.7 L64.2 164.6"/>
<path d="M84.6 177.4 L85.1 183.0 L84.6 190.2 L83.6 198.4 L83.1 205.0 L83.1 210.2 L81.1 220.4 L78.5 229.6 L79.0 233.7 L77.5 237.8 L79.0 246.0 L77.0 253.1 L74.9 259.5"/>
<path d="M88.2 172.8 L90.3 176.9 L93.3 183.0 L92.8 187.1 L94.9 192.2 L96.9 199.4 L100.0 199.4 L102.0 196.3 L105.1 194.4 L109.1 195.0 L113.2 197.6 L114.2 198.6 L115.2 196.1 L121.3 195.0"/>
<path d="M121.3 195.0 L123.4 191.5 L124.9 187.4 L127.0 184.3 L131.6 182.8 L136.7 182.3 L141.8 182.8 L145.4 184.8"/>
<path d="M121.3 195.0 L125.4 199.6 L130.5 202.7 L135.7 205.3 L140.8 207.8 L144.9 210.4 L147.4 211.9 L145.9 216.0 L143.8 219.0 L142.3 221.1 L147.9 221.6 L153.0 222.1 L157.1 221.1 L160.7 218.0 L162.7 215.0 L164.3 213.9"/>
<path d="M100.0 199.4 L99.5 204.0 L93.8 207.7 L92.8 212.3 L93.8 218.4 L90.8 221.5 L87.7 226.6 L85.7 231.7 L86.2 235.8 L83.1 241.9 L84.6 246.0 L86.7 252.1 L86.2 255.7 L84.6 259.5"/>
<path d="M147.6 235.4 L145.6 241.0 L143.4 250.0 L145.1 255.8 L151.7 260.2 L160.4 259.1 L165.9 254.7 L169.4 253.0"/>
</g>
<g stroke="#ffffff" stroke-opacity="0.55" stroke-width="0.65" stroke-linejoin="round">
<path d="M67.1 123.2 L67.8 120.0 L70.7 116.5 L72.4 113.0 L76.5 110.1 L81.2 108.6 L83.2 106.6 L85.2 105.2 L87.0 102.2 L87.9 96.1 L87.5 91.0 L85.7 87.9 L86.1 84.5 L89.8 83.5 L89.8 82.4 L87.1 81.8 L87.1 79.2 L93.7 77.7 L99.3 76.2 L100.9 79.7 L102.9 82.3 L106.0 83.4 L109.0 82.4 L112.1 79.8 L115.6 77.6 L119.2 76.4 L122.3 78.9 L123.3 85.6 L125.3 90.4 L127.4 93.4 L129.6 94.2 L132.2 89.4 L137.2 87.4 L140.8 86.4 L143.2 91.4 L148.2 95.4 L153.2 98.0 L150.2 106.4 L146.2 115.4 L143.4 122.0 L144.0 124.5 L143.6 130.6 L127.6 130.6 L124.4 130.2 L121.5 127.6 L118.6 127.0 L115.6 128.8 L112.7 132.9 L109.6 134.6 L109.1 135.5 L106.3 135.2 L102.8 136.1 L101.0 135.2 L85.9 126.4 L67.1 123.2 Z" fill="#A0E00A"/>
<path d="M140.7 82.0 L141.6 81.2 L146.7 78.2 L150.8 77.6 L154.9 76.1 L157.9 75.1 L161.5 77.1 L164.6 79.2 L168.2 82.2 L170.2 86.3 L172.8 91.4 L174.8 92.3 L177.4 88.4 L180.4 86.8 L183.5 83.3 L185.0 80.2 L186.5 85.3 L189.6 87.9 L193.2 90.4 L197.8 90.9 L202.9 92.5 L203.7 93.3 L202.6 97.7 L200.7 102.5 L198.2 106.9 L195.4 110.2 L192.4 112.8 L191.7 115.8 L189.7 119.6 L188.2 123.7 L186.2 127.8 L184.3 132.0 L183.5 134.9 L175.0 134.6 L160.0 134.0 L150.0 132.8 L147.0 130.0 L144.0 124.5 L143.4 122.0 L146.2 115.4 L150.2 106.4 L153.2 98.0 L148.2 95.4 L143.2 91.4 L140.8 86.4 L140.7 82.0 Z" fill="#D7F50A"/>
<path d="M127.6 130.6 L143.6 130.6 L144.0 124.5 L147.0 130.0 L150.0 132.8 L160.0 134.0 L175.0 134.6 L183.5 134.9 L182.4 139.0 L181.5 143.5 L181.3 147.5 L182.0 149.6 L180.0 153.6 L178.0 158.7 L174.9 162.8 L171.9 166.9 L169.8 171.0 L169.2 175.6 L164.3 173.6 L159.2 172.6 L154.1 172.6 L150.0 174.6 L147.6 177.0 L146.9 175.1 L145.3 169.8 L143.0 168.0 L134.4 167.5 L133.4 162.1 L133.7 158.6 L133.0 154.3 L134.9 149.2 L135.5 145.1 L132.6 142.8 L128.5 141.0 L127.9 136.4 L127.6 130.6 Z" fill="#FFB800"/>
<path d="M246.4 143.8 L243.5 148.8 L241.0 152.2 L239.7 156.3 L238.8 160.4 L239.2 165.4 L238.6 170.5 L237.0 174.4 L235.6 176.8 L233.0 174.8 L231.0 173.0 L232.6 169.8 L234.2 167.0 L231.1 165.4 L228.0 164.4 L225.0 162.4 L221.9 161.9 L218.8 160.3 L215.3 159.3 L212.7 157.8 L209.6 158.8 L206.6 160.3 L205.5 161.5 L204.5 159.3 L204.0 155.2 L202.0 151.2 L203.0 144.0 L203.5 139.4 L204.8 137.6 L205.7 138.1 L207.7 138.6 L209.3 140.1 L211.8 138.6 L214.9 135.5 L217.9 134.0 L221.0 133.0 L225.1 131.4 L228.2 130.4 L229.6 129.4 L232.1 132.3 L234.6 129.9 L238.7 130.7 L241.2 132.0 L242.7 133.6 L243.5 136.2 L244.6 138.2 L245.2 142.0 L246.4 143.8 Z" fill="#D7F50A"/>
<path d="M205.5 161.5 L206.6 160.3 L209.6 158.8 L212.7 157.8 L215.3 159.3 L218.8 160.3 L221.9 161.9 L225.0 162.4 L228.0 164.4 L231.1 165.4 L234.2 167.0 L232.6 169.8 L231.0 173.0 L228.9 175.9 L228.3 179.6 L226.7 183.3 L225.4 187.6 L224.8 191.0 L222.5 192.2 L217.5 195.2 L212.4 198.2 L210.7 199.2 L207.6 199.3 L204.0 198.2 L201.8 195.6 L200.4 192.2 L199.0 189.0 L197.7 186.0 L194.5 184.4 L190.2 184.4 L186.1 184.6 L182.5 184.0 L179.9 182.9 L181.4 181.6 L185.2 180.3 L190.3 178.8 L195.4 177.3 L198.0 175.4 L197.6 171.8 L198.4 167.7 L200.4 164.6 L204.0 162.6 L205.5 161.5 Z" fill="#D7F50A"/>
<path d="M182.0 149.6 L184.5 150.2 L188.2 151.2 L192.3 151.6 L197.4 151.6 L202.0 151.2 L204.0 155.2 L204.5 159.3 L205.5 161.5 L204.0 162.6 L200.4 164.6 L198.4 167.7 L197.6 171.8 L198.0 175.4 L195.4 177.3 L190.3 178.8 L185.2 180.3 L181.4 181.6 L179.9 182.9 L174.9 180.2 L170.8 178.1 L169.2 175.6 L169.8 171.0 L171.9 166.9 L174.9 162.8 L178.0 158.7 L180.0 153.6 L182.0 149.6 Z" fill="#A0E00A"/>
<path d="M192.4 112.8 L195.4 113.5 L196.9 116.6 L197.5 120.7 L198.5 123.7 L201.3 126.8 L201.0 129.9 L202.5 134.0 L204.8 137.6 L203.5 139.4 L203.0 144.0 L202.0 151.2 L197.4 151.6 L192.3 151.6 L188.2 151.2 L184.5 150.2 L182.0 149.6 L181.3 147.5 L181.5 143.5 L182.4 139.0 L183.5 134.9 L184.3 132.0 L186.2 127.8 L188.2 123.7 L189.7 119.6 L191.7 115.8 L192.4 112.8 Z" fill="#D7F50A"/>
<path d="M203.7 93.3 L206.7 94.1 L209.8 95.2 L211.0 96.5 L211.5 99.8 L212.2 101.2 L213.6 99.6 L216.9 99.2 L221.0 100.3 L225.1 101.5 L226.6 102.0 L224.6 103.3 L222.0 105.4 L220.5 109.0 L220.2 114.1 L219.5 118.2 L217.9 120.2 L213.8 121.7 L209.8 123.3 L207.2 125.8 L205.7 128.4 L205.2 132.5 L204.7 136.5 L204.8 137.6 L202.5 134.0 L201.0 129.9 L201.3 126.8 L198.5 123.7 L197.5 120.7 L196.9 116.6 L195.4 113.5 L192.4 112.8 L195.4 110.2 L198.2 106.9 L200.7 102.5 L202.6 97.7 L203.7 93.3 Z" fill="#A0E00A"/>
<path d="M226.6 102.0 L227.8 101.8 L228.2 106.9 L229.2 111.0 L230.2 115.1 L230.7 119.2 L231.7 122.2 L233.0 123.6 L231.2 126.3 L229.6 129.4 L228.2 130.4 L225.1 131.4 L221.0 133.0 L217.9 134.0 L214.9 135.5 L211.8 138.6 L209.3 140.1 L207.7 138.6 L205.7 138.1 L204.8 137.6 L204.7 136.5 L205.2 132.5 L205.7 128.4 L207.2 125.8 L209.8 123.3 L213.8 121.7 L217.9 120.2 L219.5 118.2 L220.2 114.1 L220.5 109.0 L222.0 105.4 L224.6 103.3 L226.6 102.0 Z" fill="#A0E00A"/>
<path d="M119.2 76.4 L116.0 74.3 L114.6 70.6 L112.1 66.7 L116.2 69.4 L120.2 68.8 L124.2 66.4 L128.2 65.4 L131.2 64.4 L134.2 62.2 L135.6 68.4 L136.2 74.4 L138.2 78.4 L140.7 82.0 L140.8 86.4 L137.2 87.4 L132.2 89.4 L129.6 94.2 L127.4 93.4 L125.3 90.4 L123.3 85.6 L122.3 78.9 L119.2 76.4 Z" fill="#A0E00A"/>
<path d="M161.5 77.1 L165.1 76.4 L169.2 76.6 L171.7 75.1 L174.3 70.5 L176.8 66.4 L178.4 66.4 L179.4 69.5 L180.9 75.1 L183.0 78.2 L185.0 80.2 L183.5 83.3 L180.4 86.8 L177.4 88.4 L174.8 92.3 L172.8 91.4 L170.2 86.3 L168.2 82.2 L164.6 79.2 L161.5 77.1 Z" fill="#FFB800"/>
<path d="M67.1 123.2 L85.9 126.4 L101.0 135.2 L102.8 136.1 L99.9 137.0 L96.4 139.3 L92.9 141.0 L87.6 141.6 L82.9 141.0 L82.4 137.5 L80.0 136.4 L75.3 136.4 L74.8 134.0 L71.8 134.6 L70.1 132.9 L68.3 128.8 L66.6 125.9 L67.1 123.2 Z" fill="#A0E00A"/>
<path d="M109.1 135.5 L109.6 134.6 L112.7 132.9 L115.6 128.8 L118.6 127.0 L121.5 127.6 L124.4 130.2 L127.6 130.6 L127.9 136.4 L128.5 141.0 L132.6 142.8 L135.5 145.1 L134.9 149.2 L133.0 154.3 L126.1 153.6 L120.9 151.0 L116.2 148.6 L111.6 145.7 L109.2 141.0 L109.0 137.5 L109.1 135.5 Z" fill="#22BB18"/>
<path d="M227.8 101.8 L231.2 100.8 L235.5 102.2 L239.6 104.7 L242.7 107.3 L245.3 110.2 L246.3 111.2 L245.0 114.6 L243.0 117.1 L241.4 118.7 L240.4 121.7 L239.9 123.8 L236.3 123.6 L233.0 123.6 L231.7 122.2 L230.7 119.2 L230.2 115.1 L229.2 111.0 L228.2 106.9 L227.8 101.8 Z" fill="#D7F50A"/>
<path d="M246.3 111.2 L249.0 111.4 L254.0 112.9 L258.0 115.2 L259.4 117.6 L254.7 117.6 L250.6 118.2 L247.6 117.1 L244.5 118.2 L241.4 118.7 L243.0 117.1 L245.0 114.6 L246.3 111.2 Z" fill="#60D010"/>
<path d="M259.4 117.6 L260.1 121.5 L259.7 124.8 L255.7 124.8 L251.7 125.5 L247.6 124.4 L244.3 125.4 L239.9 123.8 L240.4 121.7 L241.4 118.7 L244.5 118.2 L247.6 117.1 L250.6 118.2 L254.7 117.6 L259.4 117.6 Z" fill="#A0E00A"/>
<path d="M259.7 124.8 L259.2 127.4 L257.9 131.3 L254.2 131.0 L250.6 131.6 L246.5 131.0 L243.8 132.3 L242.7 133.6 L241.2 132.0 L238.7 130.7 L234.6 129.9 L232.1 132.3 L229.6 129.4 L231.2 126.3 L233.0 123.6 L236.3 123.6 L239.9 123.8 L244.3 125.4 L247.6 124.4 L251.7 125.5 L255.7 124.8 L259.7 124.8 Z" fill="#D7F50A"/>
<path d="M257.9 131.3 L255.6 134.9 L253.2 137.5 L251.3 138.7 L248.0 138.7 L244.6 138.2 L243.5 136.2 L242.7 133.6 L243.8 132.3 L246.5 131.0 L250.6 131.6 L254.2 131.0 L257.9 131.3 Z" fill="#22BB18"/>
<path d="M251.3 138.7 L248.8 141.8 L246.4 143.8 L245.2 142.0 L244.6 138.2 L248.0 138.7 L251.3 138.7 Z" fill="#60D010"/>
<path d="M231.0 173.0 L233.0 174.8 L235.6 176.8 L234.8 180.6 L233.5 184.6 L232.1 187.5 L230.2 190.3 L228.9 192.2 L224.8 191.0 L225.4 187.6 L226.7 183.3 L228.3 179.6 L228.9 175.9 L231.0 173.0 Z" fill="#D7F50A"/>
<path d="M210.7 199.2 L212.4 198.2 L217.5 195.2 L222.5 192.2 L224.8 191.0 L228.9 192.2 L228.4 194.4 L228.5 197.0 L227.0 198.5 L225.0 199.0 L221.9 199.3 L218.5 199.6 L214.6 200.0 L210.9 201.4 L209.6 202.2 L210.7 199.2 Z" fill="#FFB800"/>
<path d="M179.9 182.9 L182.5 184.0 L186.1 184.6 L190.2 184.4 L194.5 184.4 L197.7 186.0 L199.0 189.0 L200.4 192.2 L201.8 195.6 L204.0 198.2 L207.6 199.3 L210.7 199.2 L209.6 202.2 L204.5 203.8 L200.4 205.8 L196.3 208.4 L193.9 211.2 L191.8 210.6 L189.5 208.7 L187.8 206.1 L185.9 202.6 L183.7 199.9 L179.6 198.5 L174.5 197.7 L170.4 198.0 L166.8 199.9 L168.5 198.4 L172.4 195.3 L174.5 192.3 L176.5 188.2 L179.9 182.9 Z" fill="#D7F50A"/>
<path d="M169.2 175.6 L170.8 178.1 L174.9 180.2 L179.9 182.9 L176.5 188.2 L174.5 192.3 L172.4 195.3 L168.5 198.4 L166.8 199.9 L164.8 203.0 L163.7 205.6 L162.2 205.3 L158.1 204.6 L157.1 200.7 L156.1 197.0 L151.0 196.0 L145.9 194.3 L146.4 190.4 L145.4 185.3 L145.9 182.3 L147.9 178.4 L147.6 177.0 L150.0 174.6 L154.1 172.6 L159.2 172.6 L164.3 173.6 L169.2 175.6 Z" fill="#D7F50A"/>
<path d="M166.8 199.9 L170.4 198.0 L174.5 197.7 L179.6 198.5 L183.7 199.9 L185.9 202.6 L187.8 206.1 L189.5 208.7 L191.8 210.6 L193.9 211.2 L192.0 213.4 L191.6 215.2 L190.0 215.0 L186.7 215.6 L182.6 215.6 L178.5 216.6 L174.5 217.0 L170.4 216.5 L166.3 215.8 L165.2 213.9 L163.3 211.9 L163.9 207.8 L163.7 205.6 L164.8 203.0 L166.8 199.9 Z" fill="#D7F50A"/>
<path d="M166.3 215.8 L170.4 216.5 L174.5 217.0 L178.5 216.6 L182.6 215.6 L186.7 215.6 L190.0 215.0 L191.6 215.2 L191.4 217.8 L192.0 220.9 L191.0 224.0 L189.0 227.2 L186.3 230.2 L184.2 228.2 L181.6 226.0 L178.5 223.4 L174.5 221.5 L170.4 220.5 L165.8 219.9 L166.3 215.8 Z" fill="#A0E00A"/>
<path d="M165.8 219.9 L170.4 220.5 L174.5 221.5 L178.5 223.4 L181.6 226.0 L184.2 228.2 L186.3 230.2 L184.4 234.0 L181.0 239.4 L176.5 244.4 L172.2 249.4 L169.6 253.2 L168.5 251.0 L167.0 248.0 L165.3 244.9 L163.2 242.4 L159.1 240.4 L155.0 238.8 L151.5 236.4 L148.0 234.6 L154.0 230.1 L159.1 225.2 L164.2 221.6 L165.8 219.9 Z" fill="#D7F50A"/>
<path d="M193.2 163.6 L197.6 163.6 L197.6 166.4 L193.2 166.4 Z" fill="#D7F50A"/>
</g>
<path d="M67.1 123.2 L67.8 120.0 L70.7 116.5 L72.4 113.0 L76.5 110.1 L81.2 108.6 L83.2 106.6 L85.2 105.2 L87.0 102.2 L87.9 96.1 L87.5 91.0 L85.7 87.9 L86.1 84.5 L89.8 83.5 L89.8 82.4 L87.1 81.8 L87.1 79.2 L93.7 77.7 L99.3 76.2 L100.9 79.7 L102.9 82.3 L106.0 83.4 L109.0 82.4 L112.1 79.8 L115.6 77.6 L119.2 76.4 L116.0 74.3 L114.6 70.6 L112.1 66.7 L116.2 69.4 L120.2 68.8 L124.2 66.4 L128.2 65.4 L131.2 64.4 L134.2 62.2 L135.6 68.4 L136.2 74.4 L138.2 78.4 L140.7 82.0 L141.6 81.2 L146.7 78.2 L150.8 77.6 L154.9 76.1 L157.9 75.1 L161.5 77.1 L165.1 76.4 L169.2 76.6 L171.7 75.1 L174.3 70.5 L176.8 66.4 L178.4 66.4 L179.4 69.5 L180.9 75.1 L183.0 78.2 L185.0 80.2 L186.5 85.3 L189.6 87.9 L193.2 90.4 L197.8 90.9 L202.9 92.5 L203.7 93.3 L206.7 94.1 L209.8 95.2 L211.0 96.5 L211.5 99.8 L212.2 101.2 L213.6 99.6 L216.9 99.2 L221.0 100.3 L225.1 101.5 L226.6 102.0 L227.8 101.8 L231.2 100.8 L235.5 102.2 L239.6 104.7 L242.7 107.3 L245.3 110.2 L246.3 111.2 L249.0 111.4 L254.0 112.9 L258.0 115.2 L259.4 117.6 L260.1 121.5 L259.7 124.8 L259.2 127.4 L257.9 131.3 L255.6 134.9 L253.2 137.5 L251.3 138.7 L248.8 141.8 L246.4 143.8 L243.5 148.8 L241.0 152.2 L239.7 156.3 L238.8 160.4 L239.2 165.4 L238.6 170.5 L237.0 174.4 L235.6 176.8 L234.8 180.6 L233.5 184.6 L232.1 187.5 L230.2 190.3 L228.9 192.2 L228.4 194.4 L228.5 197.0 L227.0 198.5 L225.0 199.0 L221.9 199.3 L218.5 199.6 L214.6 200.0 L210.9 201.4 L209.6 202.2 L204.5 203.8 L200.4 205.8 L196.3 208.4 L193.9 211.2 L192.0 213.4 L191.6 215.2 L191.4 217.8 L192.0 220.9 L191.0 224.0 L189.0 227.2 L186.3 230.2 L184.4 234.0 L181.0 239.4 L176.5 244.4 L172.2 249.4 L169.6 253.2 L168.5 251.0 L167.0 248.0 L165.3 244.9 L163.2 242.4 L159.1 240.4 L155.0 238.8 L151.5 236.4 L148.0 234.6 L154.0 230.1 L159.1 225.2 L164.2 221.6 L165.8 219.9 L166.3 215.8 L165.2 213.9 L163.3 211.9 L163.9 207.8 L163.7 205.6 L162.2 205.3 L158.1 204.6 L157.1 200.7 L156.1 197.0 L151.0 196.0 L145.9 194.3 L146.4 190.4 L145.4 185.3 L145.9 182.3 L147.9 178.4 L147.6 177.0 L146.9 175.1 L145.3 169.8 L143.0 168.0 L134.4 167.5 L133.4 162.1 L133.7 158.6 L133.0 154.3 L126.1 153.6 L120.9 151.0 L116.2 148.6 L111.6 145.7 L109.2 141.0 L109.0 137.5 L109.1 135.5 L106.3 135.2 L102.8 136.1 L99.9 137.0 L96.4 139.3 L92.9 141.0 L87.6 141.6 L82.9 141.0 L82.4 137.5 L80.0 136.4 L75.3 136.4 L74.8 134.0 L71.8 134.6 L70.1 132.9 L68.3 128.8 L66.6 125.9 L67.1 123.2 Z" fill="none" stroke="#000" stroke-width="0.7" stroke-linejoin="miter"/>
<g fill="none" stroke="#000" stroke-width="0.9" stroke-linejoin="miter" stroke-linecap="round">
<path d="M67.1 123.2 L67.8 120.0 L70.7 116.5 L72.4 113.0 L76.5 110.1 L81.2 108.6 L83.2 106.6 L85.2 105.2 L87.0 102.2 L87.9 96.1 L87.5 91.0 L85.7 87.9 L86.1 84.5 L89.8 83.5 L89.8 82.4 L87.1 81.8 L87.1 79.2 L93.7 77.7 L99.3 76.2 L100.9 79.7 L102.9 82.3 L106.0 83.4 L109.0 82.4 L112.1 79.8 L115.6 77.6 L119.2 76.4"/>
<path d="M119.2 76.4 L116.0 74.3 L114.6 70.6 L112.1 66.7 L116.2 69.4 L120.2 68.8 L124.2 66.4 L128.2 65.4 L131.2 64.4 L134.2 62.2 L135.6 68.4 L136.2 74.4 L138.2 78.4 L140.7 82.0"/>
<path d="M140.7 82.0 L141.6 81.2 L146.7 78.2 L150.8 77.6 L154.9 76.1 L157.9 75.1 L161.5 77.1"/>
<path d="M161.5 77.1 L165.1 76.4 L169.2 76.6 L171.7 75.1 L174.3 70.5 L176.8 66.4 L178.4 66.4 L179.4 69.5 L180.9 75.1 L183.0 78.2 L185.0 80.2"/>
<path d="M185.0 80.2 L186.5 85.3 L189.6 87.9 L193.2 90.4 L197.8 90.9 L202.9 92.5 L203.7 93.3"/>
<path d="M203.7 93.3 L206.7 94.1 L209.8 95.2 L211.0 96.5 L211.5 99.8 L212.2 101.2 L213.6 99.6 L216.9 99.2 L221.0 100.3 L225.1 101.5 L226.6 102.0"/>
<path d="M67.1 123.2 L66.6 125.9 L68.3 128.8 L70.1 132.9 L71.8 134.6 L74.8 134.0 L75.3 136.4 L80.0 136.4 L82.4 137.5 L82.9 141.0 L87.6 141.6 L92.9 141.0 L96.4 139.3 L99.9 137.0 L102.8 136.1"/>
<path d="M102.8 136.1 L106.3 135.2 L109.1 135.5"/>
<path d="M109.1 135.5 L109.0 137.5 L109.2 141.0 L111.6 145.7 L116.2 148.6 L120.9 151.0 L126.1 153.6 L133.0 154.3"/>
<path d="M133.0 154.3 L133.7 158.6 L133.4 162.1 L134.4 167.5 L143.0 168.0 L145.3 169.8 L146.9 175.1 L147.6 177.0"/>
<path d="M147.6 177.0 L147.9 178.4 L145.9 182.3 L145.4 185.3 L146.4 190.4 L145.9 194.3 L151.0 196.0 L156.1 197.0 L157.1 200.7 L158.1 204.6 L162.2 205.3 L163.7 205.6"/>
<path d="M163.7 205.6 L163.9 207.8 L163.3 211.9 L165.2 213.9 L166.3 215.8"/>
<path d="M209.6 202.2 L210.9 201.4 L214.6 200.0 L218.5 199.6 L221.9 199.3 L225.0 199.0 L227.0 198.5 L228.5 197.0 L228.4 194.4 L228.9 192.2"/>
<path d="M165.8 219.9 L164.2 221.6 L159.1 225.2 L154.0 230.1 L148.0 234.6 L151.5 236.4 L155.0 238.8 L159.1 240.4 L163.2 242.4 L165.3 244.9 L167.0 248.0 L168.5 251.0 L169.6 253.2"/>
<path d="M166.3 215.8 L165.8 219.9"/>
<path stroke-width="1.15" d="M185.0 80.2 L186.5 85.3 L189.6 87.9 L193.2 90.4 L197.8 90.9 L202.9 92.5 L203.7 93.3 L206.7 94.1 L209.8 95.2 L211.0 96.5 L211.5 99.8 L212.2 101.2 L213.6 99.6 L216.9 99.2 L221.0 100.3 L225.1 101.5 L226.6 102.0"/>
</g>
<g font-size="6.5" font-weight="bold" text-anchor="middle" fill="#000" stroke="#000" stroke-width="0.16">
<text transform="translate(117.4 110.2) scale(0.93 1)">35.76</text>
<text transform="translate(170.0 113.2) scale(0.93 1)">6.33</text>
<text transform="translate(158.6 153.4) scale(0.93 1)">-7.76</text>
<text transform="translate(221.6 151.1) scale(0.93 1)">0.67</text>
<text transform="translate(212.8 180.8) scale(0.93 1)">9.3</text>
<text transform="translate(184.8 169.0) scale(0.93 1)">27.72</text>
<text transform="translate(192.4 140.0) scale(0.93 1)">14.56</text>
<text transform="translate(208.0 114.9) scale(0.93 1)">26.44</text>
<text transform="translate(218.4 129.7) scale(0.93 1)">33.45</text>
<text transform="translate(127.6 79.5) scale(0.93 1)">31.88</text>
<text transform="translate(175.5 82.7) scale(0.93 1)">-2.6</text>
<text transform="translate(83.0 135.1) scale(0.93 1)">38.04</text>
<text transform="translate(118.6 143.6) scale(0.93 1)">75.05</text>
<text transform="translate(236.8 115.2) scale(0.93 1)">23.14</text>
<text transform="translate(251.5 117.6) scale(0.93 1)">72.47</text>
<text transform="translate(249.1 124.8) scale(0.93 1)">41.45</text>
<text transform="translate(243.8 131.1) scale(0.93 1)">3.07</text>
<text transform="translate(250.5 138.7) scale(0.93 1)">117.24</text>
<text transform="translate(247.9 145.7) scale(0.93 1)">52.51</text>
<text transform="translate(231.8 186.2) scale(0.93 1)">2.84</text>
<text transform="translate(221.1 200.8) scale(0.93 1)">-0.67</text>
<text transform="translate(188.0 197.4) scale(0.93 1)">15.85</text>
<text transform="translate(161.6 190.5) scale(0.93 1)">10.02</text>
<text transform="translate(175.8 211.0) scale(0.93 1)">23.8</text>
<text transform="translate(182.5 223.9) scale(0.93 1)">35.08</text>
<text transform="translate(168.6 236.6) scale(0.93 1)">18.23</text>
<text transform="translate(200.4 167.6) scale(0.93 1)">16.28</text>
</g>
</g>
<g transform="translate(-3.2 443.7)">
<g fill="none" stroke="#484848" stroke-width="0.55" clip-path="url(#clipE)">
<path d="M73.8 49.6 L76.4 52.2 L81.5 52.2 L85.5 53.2 L88.6 55.7 L93.7 55.7 L98.3 55.2 L98.8 58.3 L97.3 61.9 L98.3 65.9 L99.3 69.5 L97.3 73.1 L99.3 76.0"/>
<path d="M132.4 49.4 L134.0 52.0 L130.0 55.0 L129.0 59.0 L132.0 62.0 L134.0 61.8"/>
<path d="M141.6 49.5 L142.6 53.6 L147.7 56.7 L145.2 61.8 L144.7 65.9 L148.7 71.0 L150.8 77.4"/>
<path d="M147.7 56.7 L150.8 57.7 L155.9 57.2 L161.0 57.7 L165.1 58.7 L170.2 61.8 L174.3 64.4 L177.4 66.0"/>
<path d="M165.1 58.7 L162.5 62.8 L162.0 66.9 L164.6 70.0 L163.6 74.1 L165.4 76.3"/>
<path d="M64.1 89.5 L66.1 92.0 L69.2 95.1 L71.8 98.1 L76.4 98.6 L80.4 97.6 L84.5 99.2 L85.5 101.7 L84.0 105.3 L83.2 106.4"/>
<path d="M88.7 141.8 L92.3 148.3 L91.3 155.4 L89.2 160.5 L90.3 166.7 L88.2 172.8 L86.7 175.9 L84.6 177.4"/>
<path d="M84.6 177.4 L80.5 173.8 L75.4 169.7 L69.3 166.7 L64.2 164.6"/>
<path d="M84.6 177.4 L85.1 183.0 L84.6 190.2 L83.6 198.4 L83.1 205.0 L83.1 210.2 L81.1 220.4 L78.5 229.6 L79.0 233.7 L77.5 237.8 L79.0 246.0 L77.0 253.1 L74.9 259.5"/>
<path d="M88.2 172.8 L90.3 176.9 L93.3 183.0 L92.8 187.1 L94.9 192.2 L96.9 199.4 L100.0 199.4 L102.0 196.3 L105.1 194.4 L109.1 195.0 L113.2 197.6 L114.2 198.6 L115.2 196.1 L121.3 195.0"/>
<path d="M121.3 195.0 L123.4 191.5 L124.9 187.4 L127.0 184.3 L131.6 182.8 L136.7 182.3 L141.8 182.8 L145.4 184.8"/>
<path d="M121.3 195.0 L125.4 199.6 L130.5 202.7 L135.7 205.3 L140.8 207.8 L144.9 210.4 L147.4 211.9 L145.9 216.0 L143.8 219.0 L142.3 221.1 L147.9 221.6 L153.0 222.1 L157.1 221.1 L160.7 218.0 L162.7 215.0 L164.3 213.9"/>
<path d="M100.0 199.4 L99.5 204.0 L93.8 207.7 L92.8 212.3 L93.8 218.4 L90.8 221.5 L87.7 226.6 L85.7 231.7 L86.2 235.8 L83.1 241.9 L84.6 246.0 L86.7 252.1 L86.2 255.7 L84.6 259.5"/>
<path d="M147.6 235.4 L145.6 241.0 L143.4 250.0 L145.1 255.8 L151.7 260.2 L160.4 259.1 L165.9 254.7 L169.4 253.0"/>
</g>
<g stroke="#ffffff" stroke-opacity="0.55" stroke-width="0.65" stroke-linejoin="round">
<path d="M67.1 123.2 L67.8 120.0 L70.7 116.5 L72.4 113.0 L76.5 110.1 L81.2 108.6 L83.2 106.6 L85.2 105.2 L87.0 102.2 L87.9 96.1 L87.5 91.0 L85.7 87.9 L86.1 84.5 L89.8 83.5 L89.8 82.4 L87.1 81.8 L87.1 79.2 L93.7 77.7 L99.3 76.2 L100.9 79.7 L102.9 82.3 L106.0 83.4 L109.0 82.4 L112.1 79.8 L115.6 77.6 L119.2 76.4 L122.3 78.9 L123.3 85.6 L125.3 90.4 L127.4 93.4 L129.6 94.2 L132.2 89.4 L137.2 87.4 L140.8 86.4 L143.2 91.4 L148.2 95.4 L153.2 98.0 L150.2 106.4 L146.2 115.4 L143.4 122.0 L144.0 124.5 L143.6 130.6 L127.6 130.6 L124.4 130.2 L121.5 127.6 L118.6 127.0 L115.6 128.8 L112.7 132.9 L109.6 134.6 L109.1 135.5 L106.3 135.2 L102.8 136.1 L101.0 135.2 L85.9 126.4 L67.1 123.2 Z" fill="#FFB800"/>
<path d="M140.7 82.0 L141.6 81.2 L146.7 78.2 L150.8 77.6 L154.9 76.1 L157.9 75.1 L161.5 77.1 L164.6 79.2 L168.2 82.2 L170.2 86.3 L172.8 91.4 L174.8 92.3 L177.4 88.4 L180.4 86.8 L183.5 83.3 L185.0 80.2 L186.5 85.3 L189.6 87.9 L193.2 90.4 L197.8 90.9 L202.9 92.5 L203.7 93.3 L202.6 97.7 L200.7 102.5 L198.2 106.9 L195.4 110.2 L192.4 112.8 L191.7 115.8 L189.7 119.6 L188.2 123.7 L186.2 127.8 L184.3 132.0 L183.5 134.9 L175.0 134.6 L160.0 134.0 L150.0 132.8 L147.0 130.0 L144.0 124.5 L143.4 122.0 L146.2 115.4 L150.2 106.4 L153.2 98.0 L148.2 95.4 L143.2 91.4 L140.8 86.4 L140.7 82.0 Z" fill="#FFB800"/>
<path d="M127.6 130.6 L143.6 130.6 L144.0 124.5 L147.0 130.0 L150.0 132.8 L160.0 134.0 L175.0 134.6 L183.5 134.9 L182.4 139.0 L181.5 143.5 L181.3 147.5 L182.0 149.6 L180.0 153.6 L178.0 158.7 L174.9 162.8 L171.9 166.9 L169.8 171.0 L169.2 175.6 L164.3 173.6 L159.2 172.6 L154.1 172.6 L150.0 174.6 L147.6 177.0 L146.9 175.1 L145.3 169.8 L143.0 168.0 L134.4 167.5 L133.4 162.1 L133.7 158.6 L133.0 154.3 L134.9 149.2 L135.5 145.1 L132.6 142.8 L128.5 141.0 L127.9 136.4 L127.6 130.6 Z" fill="#FFB800"/>
<path d="M246.4 143.8 L243.5 148.8 L241.0 152.2 L239.7 156.3 L238.8 160.4 L239.2 165.4 L238.6 170.5 L237.0 174.4 L235.6 176.8 L233.0 174.8 L231.0 173.0 L232.6 169.8 L234.2 167.0 L231.1 165.4 L228.0 164.4 L225.0 162.4 L221.9 161.9 L218.8 160.3 L215.3 159.3 L212.7 157.8 L209.6 158.8 L206.6 160.3 L205.5 161.5 L204.5 159.3 L204.0 155.2 L202.0 151.2 L203.0 144.0 L203.5 139.4 L204.8 137.6 L205.7 138.1 L207.7 138.6 L209.3 140.1 L211.8 138.6 L214.9 135.5 L217.9 134.0 L221.0 133.0 L225.1 131.4 L228.2 130.4 L229.6 129.4 L232.1 132.3 L234.6 129.9 L238.7 130.7 L241.2 132.0 L242.7 133.6 L243.5 136.2 L244.6 138.2 L245.2 142.0 L246.4 143.8 Z" fill="#D7F50A"/>
<path d="M205.5 161.5 L206.6 160.3 L209.6 158.8 L212.7 157.8 L215.3 159.3 L218.8 160.3 L221.9 161.9 L225.0 162.4 L228.0 164.4 L231.1 165.4 L234.2 167.0 L232.6 169.8 L231.0 173.0 L228.9 175.9 L228.3 179.6 L226.7 183.3 L225.4 187.6 L224.8 191.0 L222.5 192.2 L217.5 195.2 L212.4 198.2 L210.7 199.2 L207.6 199.3 L204.0 198.2 L201.8 195.6 L200.4 192.2 L199.0 189.0 L197.7 186.0 L194.5 184.4 L190.2 184.4 L186.1 184.6 L182.5 184.0 L179.9 182.9 L181.4 181.6 L185.2 180.3 L190.3 178.8 L195.4 177.3 L198.0 175.4 L197.6 171.8 L198.4 167.7 L200.4 164.6 L204.0 162.6 L205.5 161.5 Z" fill="#FFB800"/>
<path d="M182.0 149.6 L184.5 150.2 L188.2 151.2 L192.3 151.6 L197.4 151.6 L202.0 151.2 L204.0 155.2 L204.5 159.3 L205.5 161.5 L204.0 162.6 L200.4 164.6 L198.4 167.7 L197.6 171.8 L198.0 175.4 L195.4 177.3 L190.3 178.8 L185.2 180.3 L181.4 181.6 L179.9 182.9 L174.9 180.2 L170.8 178.1 L169.2 175.6 L169.8 171.0 L171.9 166.9 L174.9 162.8 L178.0 158.7 L180.0 153.6 L182.0 149.6 Z" fill="#FFB800"/>
<path d="M192.4 112.8 L195.4 113.5 L196.9 116.6 L197.5 120.7 L198.5 123.7 L201.3 126.8 L201.0 129.9 L202.5 134.0 L204.8 137.6 L203.5 139.4 L203.0 144.0 L202.0 151.2 L197.4 151.6 L192.3 151.6 L188.2 151.2 L184.5 150.2 L182.0 149.6 L181.3 147.5 L181.5 143.5 L182.4 139.0 L183.5 134.9 L184.3 132.0 L186.2 127.8 L188.2 123.7 L189.7 119.6 L191.7 115.8 L192.4 112.8 Z" fill="#D7F50A"/>
<path d="M203.7 93.3 L206.7 94.1 L209.8 95.2 L211.0 96.5 L211.5 99.8 L212.2 101.2 L213.6 99.6 L216.9 99.2 L221.0 100.3 L225.1 101.5 L226.6 102.0 L224.6 103.3 L222.0 105.4 L220.5 109.0 L220.2 114.1 L219.5 118.2 L217.9 120.2 L213.8 121.7 L209.8 123.3 L207.2 125.8 L205.7 128.4 L205.2 132.5 L204.7 136.5 L204.8 137.6 L202.5 134.0 L201.0 129.9 L201.3 126.8 L198.5 123.7 L197.5 120.7 L196.9 116.6 L195.4 113.5 L192.4 112.8 L195.4 110.2 L198.2 106.9 L200.7 102.5 L202.6 97.7 L203.7 93.3 Z" fill="#FFB800"/>
<path d="M226.6 102.0 L227.8 101.8 L228.2 106.9 L229.2 111.0 L230.2 115.1 L230.7 119.2 L231.7 122.2 L233.0 123.6 L231.2 126.3 L229.6 129.4 L228.2 130.4 L225.1 131.4 L221.0 133.0 L217.9 134.0 L214.9 135.5 L211.8 138.6 L209.3 140.1 L207.7 138.6 L205.7 138.1 L204.8 137.6 L204.7 136.5 L205.2 132.5 L205.7 128.4 L207.2 125.8 L209.8 123.3 L213.8 121.7 L217.9 120.2 L219.5 118.2 L220.2 114.1 L220.5 109.0 L222.0 105.4 L224.6 103.3 L226.6 102.0 Z" fill="#D7F50A"/>
<path d="M119.2 76.4 L116.0 74.3 L114.6 70.6 L112.1 66.7 L116.2 69.4 L120.2 68.8 L124.2 66.4 L128.2 65.4 L131.2 64.4 L134.2 62.2 L135.6 68.4 L136.2 74.4 L138.2 78.4 L140.7 82.0 L140.8 86.4 L137.2 87.4 L132.2 89.4 L129.6 94.2 L127.4 93.4 L125.3 90.4 L123.3 85.6 L122.3 78.9 L119.2 76.4 Z" fill="#D7F50A"/>
<path d="M161.5 77.1 L165.1 76.4 L169.2 76.6 L171.7 75.1 L174.3 70.5 L176.8 66.4 L178.4 66.4 L179.4 69.5 L180.9 75.1 L183.0 78.2 L185.0 80.2 L183.5 83.3 L180.4 86.8 L177.4 88.4 L174.8 92.3 L172.8 91.4 L170.2 86.3 L168.2 82.2 L164.6 79.2 L161.5 77.1 Z" fill="#A0E00A"/>
<path d="M67.1 123.2 L85.9 126.4 L101.0 135.2 L102.8 136.1 L99.9 137.0 L96.4 139.3 L92.9 141.0 L87.6 141.6 L82.9 141.0 L82.4 137.5 L80.0 136.4 L75.3 136.4 L74.8 134.0 L71.8 134.6 L70.1 132.9 L68.3 128.8 L66.6 125.9 L67.1 123.2 Z" fill="#FFB800"/>
<path d="M109.1 135.5 L109.6 134.6 L112.7 132.9 L115.6 128.8 L118.6 127.0 L121.5 127.6 L124.4 130.2 L127.6 130.6 L127.9 136.4 L128.5 141.0 L132.6 142.8 L135.5 145.1 L134.9 149.2 L133.0 154.3 L126.1 153.6 L120.9 151.0 L116.2 148.6 L111.6 145.7 L109.2 141.0 L109.0 137.5 L109.1 135.5 Z" fill="#FF6600"/>
<path d="M227.8 101.8 L231.2 100.8 L235.5 102.2 L239.6 104.7 L242.7 107.3 L245.3 110.2 L246.3 111.2 L245.0 114.6 L243.0 117.1 L241.4 118.7 L240.4 121.7 L239.9 123.8 L236.3 123.6 L233.0 123.6 L231.7 122.2 L230.7 119.2 L230.2 115.1 L229.2 111.0 L228.2 106.9 L227.8 101.8 Z" fill="#D7F50A"/>
<path d="M246.3 111.2 L249.0 111.4 L254.0 112.9 L258.0 115.2 L259.4 117.6 L254.7 117.6 L250.6 118.2 L247.6 117.1 L244.5 118.2 L241.4 118.7 L243.0 117.1 L245.0 114.6 L246.3 111.2 Z" fill="#FFB800"/>
<path d="M259.4 117.6 L260.1 121.5 L259.7 124.8 L255.7 124.8 L251.7 125.5 L247.6 124.4 L244.3 125.4 L239.9 123.8 L240.4 121.7 L241.4 118.7 L244.5 118.2 L247.6 117.1 L250.6 118.2 L254.7 117.6 L259.4 117.6 Z" fill="#D7F50A"/>
<path d="M259.7 124.8 L259.2 127.4 L257.9 131.3 L254.2 131.0 L250.6 131.6 L246.5 131.0 L243.8 132.3 L242.7 133.6 L241.2 132.0 L238.7 130.7 L234.6 129.9 L232.1 132.3 L229.6 129.4 L231.2 126.3 L233.0 123.6 L236.3 123.6 L239.9 123.8 L244.3 125.4 L247.6 124.4 L251.7 125.5 L255.7 124.8 L259.7 124.8 Z" fill="#FFB800"/>
<path d="M257.9 131.3 L255.6 134.9 L253.2 137.5 L251.3 138.7 L248.0 138.7 L244.6 138.2 L243.5 136.2 L242.7 133.6 L243.8 132.3 L246.5 131.0 L250.6 131.6 L254.2 131.0 L257.9 131.3 Z" fill="#FFB800"/>
<path d="M251.3 138.7 L248.8 141.8 L246.4 143.8 L245.2 142.0 L244.6 138.2 L248.0 138.7 L251.3 138.7 Z" fill="#D7F50A"/>
<path d="M231.0 173.0 L233.0 174.8 L235.6 176.8 L234.8 180.6 L233.5 184.6 L232.1 187.5 L230.2 190.3 L228.9 192.2 L224.8 191.0 L225.4 187.6 L226.7 183.3 L228.3 179.6 L228.9 175.9 L231.0 173.0 Z" fill="#D7F50A"/>
<path d="M210.7 199.2 L212.4 198.2 L217.5 195.2 L222.5 192.2 L224.8 191.0 L228.9 192.2 L228.4 194.4 L228.5 197.0 L227.0 198.5 L225.0 199.0 L221.9 199.3 L218.5 199.6 L214.6 200.0 L210.9 201.4 L209.6 202.2 L210.7 199.2 Z" fill="#FFB800"/>
<path d="M179.9 182.9 L182.5 184.0 L186.1 184.6 L190.2 184.4 L194.5 184.4 L197.7 186.0 L199.0 189.0 L200.4 192.2 L201.8 195.6 L204.0 198.2 L207.6 199.3 L210.7 199.2 L209.6 202.2 L204.5 203.8 L200.4 205.8 L196.3 208.4 L193.9 211.2 L191.8 210.6 L189.5 208.7 L187.8 206.1 L185.9 202.6 L183.7 199.9 L179.6 198.5 L174.5 197.7 L170.4 198.0 L166.8 199.9 L168.5 198.4 L172.4 195.3 L174.5 192.3 L176.5 188.2 L179.9 182.9 Z" fill="#FFB800"/>
<path d="M169.2 175.6 L170.8 178.1 L174.9 180.2 L179.9 182.9 L176.5 188.2 L174.5 192.3 L172.4 195.3 L168.5 198.4 L166.8 199.9 L164.8 203.0 L163.7 205.6 L162.2 205.3 L158.1 204.6 L157.1 200.7 L156.1 197.0 L151.0 196.0 L145.9 194.3 L146.4 190.4 L145.4 185.3 L145.9 182.3 L147.9 178.4 L147.6 177.0 L150.0 174.6 L154.1 172.6 L159.2 172.6 L164.3 173.6 L169.2 175.6 Z" fill="#FFB800"/>
<path d="M166.8 199.9 L170.4 198.0 L174.5 197.7 L179.6 198.5 L183.7 199.9 L185.9 202.6 L187.8 206.1 L189.5 208.7 L191.8 210.6 L193.9 211.2 L192.0 213.4 L191.6 215.2 L190.0 215.0 L186.7 215.6 L182.6 215.6 L178.5 216.6 L174.5 217.0 L170.4 216.5 L166.3 215.8 L165.2 213.9 L163.3 211.9 L163.9 207.8 L163.7 205.6 L164.8 203.0 L166.8 199.9 Z" fill="#FFB800"/>
<path d="M166.3 215.8 L170.4 216.5 L174.5 217.0 L178.5 216.6 L182.6 215.6 L186.7 215.6 L190.0 215.0 L191.6 215.2 L191.4 217.8 L192.0 220.9 L191.0 224.0 L189.0 227.2 L186.3 230.2 L184.2 228.2 L181.6 226.0 L178.5 223.4 L174.5 221.5 L170.4 220.5 L165.8 219.9 L166.3 215.8 Z" fill="#FFB800"/>
<path d="M165.8 219.9 L170.4 220.5 L174.5 221.5 L178.5 223.4 L181.6 226.0 L184.2 228.2 L186.3 230.2 L184.4 234.0 L181.0 239.4 L176.5 244.4 L172.2 249.4 L169.6 253.2 L168.5 251.0 L167.0 248.0 L165.3 244.9 L163.2 242.4 L159.1 240.4 L155.0 238.8 L151.5 236.4 L148.0 234.6 L154.0 230.1 L159.1 225.2 L164.2 221.6 L165.8 219.9 Z" fill="#FFB800"/>
<path d="M193.2 163.6 L197.6 163.6 L197.6 166.4 L193.2 166.4 Z" fill="#FFB800"/>
</g>
<path d="M67.1 123.2 L67.8 120.0 L70.7 116.5 L72.4 113.0 L76.5 110.1 L81.2 108.6 L83.2 106.6 L85.2 105.2 L87.0 102.2 L87.9 96.1 L87.5 91.0 L85.7 87.9 L86.1 84.5 L89.8 83.5 L89.8 82.4 L87.1 81.8 L87.1 79.2 L93.7 77.7 L99.3 76.2 L100.9 79.7 L102.9 82.3 L106.0 83.4 L109.0 82.4 L112.1 79.8 L115.6 77.6 L119.2 76.4 L116.0 74.3 L114.6 70.6 L112.1 66.7 L116.2 69.4 L120.2 68.8 L124.2 66.4 L128.2 65.4 L131.2 64.4 L134.2 62.2 L135.6 68.4 L136.2 74.4 L138.2 78.4 L140.7 82.0 L141.6 81.2 L146.7 78.2 L150.8 77.6 L154.9 76.1 L157.9 75.1 L161.5 77.1 L165.1 76.4 L169.2 76.6 L171.7 75.1 L174.3 70.5 L176.8 66.4 L178.4 66.4 L179.4 69.5 L180.9 75.1 L183.0 78.2 L185.0 80.2 L186.5 85.3 L189.6 87.9 L193.2 90.4 L197.8 90.9 L202.9 92.5 L203.7 93.3 L206.7 94.1 L209.8 95.2 L211.0 96.5 L211.5 99.8 L212.2 101.2 L213.6 99.6 L216.9 99.2 L221.0 100.3 L225.1 101.5 L226.6 102.0 L227.8 101.8 L231.2 100.8 L235.5 102.2 L239.6 104.7 L242.7 107.3 L245.3 110.2 L246.3 111.2 L249.0 111.4 L254.0 112.9 L258.0 115.2 L259.4 117.6 L260.1 121.5 L259.7 124.8 L259.2 127.4 L257.9 131.3 L255.6 134.9 L253.2 137.5 L251.3 138.7 L248.8 141.8 L246.4 143.8 L243.5 148.8 L241.0 152.2 L239.7 156.3 L238.8 160.4 L239.2 165.4 L238.6 170.5 L237.0 174.4 L235.6 176.8 L234.8 180.6 L233.5 184.6 L232.1 187.5 L230.2 190.3 L228.9 192.2 L228.4 194.4 L228.5 197.0 L227.0 198.5 L225.0 199.0 L221.9 199.3 L218.5 199.6 L214.6 200.0 L210.9 201.4 L209.6 202.2 L204.5 203.8 L200.4 205.8 L196.3 208.4 L193.9 211.2 L192.0 213.4 L191.6 215.2 L191.4 217.8 L192.0 220.9 L191.0 224.0 L189.0 227.2 L186.3 230.2 L184.4 234.0 L181.0 239.4 L176.5 244.4 L172.2 249.4 L169.6 253.2 L168.5 251.0 L167.0 248.0 L165.3 244.9 L163.2 242.4 L159.1 240.4 L155.0 238.8 L151.5 236.4 L148.0 234.6 L154.0 230.1 L159.1 225.2 L164.2 221.6 L165.8 219.9 L166.3 215.8 L165.2 213.9 L163.3 211.9 L163.9 207.8 L163.7 205.6 L162.2 205.3 L158.1 204.6 L157.1 200.7 L156.1 197.0 L151.0 196.0 L145.9 194.3 L146.4 190.4 L145.4 185.3 L145.9 182.3 L147.9 178.4 L147.6 177.0 L146.9 175.1 L145.3 169.8 L143.0 168.0 L134.4 167.5 L133.4 162.1 L133.7 158.6 L133.0 154.3 L126.1 153.6 L120.9 151.0 L116.2 148.6 L111.6 145.7 L109.2 141.0 L109.0 137.5 L109.1 135.5 L106.3 135.2 L102.8 136.1 L99.9 137.0 L96.4 139.3 L92.9 141.0 L87.6 141.6 L82.9 141.0 L82.4 137.5 L80.0 136.4 L75.3 136.4 L74.8 134.0 L71.8 134.6 L70.1 132.9 L68.3 128.8 L66.6 125.9 L67.1 123.2 Z" fill="none" stroke="#000" stroke-width="0.7" stroke-linejoin="miter"/>
<g fill="none" stroke="#000" stroke-width="0.9" stroke-linejoin="miter" stroke-linecap="round">
<path d="M67.1 123.2 L67.8 120.0 L70.7 116.5 L72.4 113.0 L76.5 110.1 L81.2 108.6 L83.2 106.6 L85.2 105.2 L87.0 102.2 L87.9 96.1 L87.5 91.0 L85.7 87.9 L86.1 84.5 L89.8 83.5 L89.8 82.4 L87.1 81.8 L87.1 79.2 L93.7 77.7 L99.3 76.2 L100.9 79.7 L102.9 82.3 L106.0 83.4 L109.0 82.4 L112.1 79.8 L115.6 77.6 L119.2 76.4"/>
<path d="M119.2 76.4 L116.0 74.3 L114.6 70.6 L112.1 66.7 L116.2 69.4 L120.2 68.8 L124.2 66.4 L128.2 65.4 L131.2 64.4 L134.2 62.2 L135.6 68.4 L136.2 74.4 L138.2 78.4 L140.7 82.0"/>
<path d="M140.7 82.0 L141.6 81.2 L146.7 78.2 L150.8 77.6 L154.9 76.1 L157.9 75.1 L161.5 77.1"/>
<path d="M161.5 77.1 L165.1 76.4 L169.2 76.6 L171.7 75.1 L174.3 70.5 L176.8 66.4 L178.4 66.4 L179.4 69.5 L180.9 75.1 L183.0 78.2 L185.0 80.2"/>
<path d="M185.0 80.2 L186.5 85.3 L189.6 87.9 L193.2 90.4 L197.8 90.9 L202.9 92.5 L203.7 93.3"/>
<path d="M203.7 93.3 L206.7 94.1 L209.8 95.2 L211.0 96.5 L211.5 99.8 L212.2 101.2 L213.6 99.6 L216.9 99.2 L221.0 100.3 L225.1 101.5 L226.6 102.0"/>
<path d="M67.1 123.2 L66.6 125.9 L68.3 128.8 L70.1 132.9 L71.8 134.6 L74.8 134.0 L75.3 136.4 L80.0 136.4 L82.4 137.5 L82.9 141.0 L87.6 141.6 L92.9 141.0 L96.4 139.3 L99.9 137.0 L102.8 136.1"/>
<path d="M102.8 136.1 L106.3 135.2 L109.1 135.5"/>
<path d="M109.1 135.5 L109.0 137.5 L109.2 141.0 L111.6 145.7 L116.2 148.6 L120.9 151.0 L126.1 153.6 L133.0 154.3"/>
<path d="M133.0 154.3 L133.7 158.6 L133.4 162.1 L134.4 167.5 L143.0 168.0 L145.3 169.8 L146.9 175.1 L147.6 177.0"/>
<path d="M147.6 177.0 L147.9 178.4 L145.9 182.3 L145.4 185.3 L146.4 190.4 L145.9 194.3 L151.0 196.0 L156.1 197.0 L157.1 200.7 L158.1 204.6 L162.2 205.3 L163.7 205.6"/>
<path d="M163.7 205.6 L163.9 207.8 L163.3 211.9 L165.2 213.9 L166.3 215.8"/>
<path d="M209.6 202.2 L210.9 201.4 L214.6 200.0 L218.5 199.6 L221.9 199.3 L225.0 199.0 L227.0 198.5 L228.5 197.0 L228.4 194.4 L228.9 192.2"/>
<path d="M165.8 219.9 L164.2 221.6 L159.1 225.2 L154.0 230.1 L148.0 234.6 L151.5 236.4 L155.0 238.8 L159.1 240.4 L163.2 242.4 L165.3 244.9 L167.0 248.0 L168.5 251.0 L169.6 253.2"/>
<path d="M166.3 215.8 L165.8 219.9"/>
<path stroke-width="1.15" d="M185.0 80.2 L186.5 85.3 L189.6 87.9 L193.2 90.4 L197.8 90.9 L202.9 92.5 L203.7 93.3 L206.7 94.1 L209.8 95.2 L211.0 96.5 L211.5 99.8 L212.2 101.2 L213.6 99.6 L216.9 99.2 L221.0 100.3 L225.1 101.5 L226.6 102.0"/>
</g>
<g font-size="6.5" font-weight="bold" text-anchor="middle" fill="#000" stroke="#000" stroke-width="0.16">
<text transform="translate(117.4 110.1) scale(0.93 1)">-2.93</text>
<text transform="translate(170.0 113.1) scale(0.93 1)">-1.06</text>
<text transform="translate(158.6 153.3) scale(0.93 1)">-18.36</text>
<text transform="translate(221.6 151.0) scale(0.93 1)">1.71</text>
<text transform="translate(212.8 180.7) scale(0.93 1)">-12.56</text>
<text transform="translate(184.4 173.5) scale(0.93 1)">-13.82</text>
<text transform="translate(192.4 139.9) scale(0.93 1)">9.26</text>
<text transform="translate(208.0 114.7) scale(0.93 1)">-12.96</text>
<text transform="translate(218.4 129.5) scale(0.93 1)">9.16</text>
<text transform="translate(129.0 79.1) scale(0.93 1)">11.49</text>
<text transform="translate(175.5 82.5) scale(0.93 1)">46.46</text>
<text transform="translate(83.0 135.0) scale(0.93 1)">-2.78</text>
<text transform="translate(118.6 143.5) scale(0.93 1)">-28.41</text>
<text transform="translate(236.2 114.8) scale(0.93 1)">2.48</text>
<text transform="translate(250.8 118.8) scale(0.93 1)">-6.34</text>
<text transform="translate(235.2 124.4) scale(0.93 1)">16.36</text>
<text transform="translate(243.8 131.0) scale(0.93 1)">-13.83</text>
<text transform="translate(250.2 138.4) scale(0.93 1)">-0.14</text>
<text transform="translate(247.2 145.8) scale(0.93 1)">20.99</text>
<text transform="translate(231.8 186.1) scale(0.93 1)">3.86</text>
<text transform="translate(221.1 200.7) scale(0.93 1)">-12.86</text>
<text transform="translate(187.1 197.4) scale(0.93 1)">-12.75</text>
<text transform="translate(160.4 190.0) scale(0.93 1)">-17.52</text>
<text transform="translate(175.8 210.9) scale(0.93 1)">-15.37</text>
<text transform="translate(182.5 223.8) scale(0.93 1)">-20.2</text>
<text transform="translate(168.5 237.5) scale(0.93 1)">-11.6</text>
<text transform="translate(195.8 166.3) scale(0.93 1)">-11.76</text>
</g>
</g>
<g font-weight="bold" font-size="18.5" text-anchor="middle" fill="#000">
<text x="161.7" y="17.6">Percentage of change</text><text x="162.6" y="38.6">2020</text>
<text x="387.9" y="16.2">Percentage of change</text><text x="386.8" y="37.6">2021</text>
</g>
<g font-weight="bold" text-anchor="middle" fill="#000">
<text transform="translate(28.3 149.9) rotate(-90)" font-size="17.4">Diagnosis HIV/AIDS</text>
<text transform="translate(17.9 378.6) rotate(-90)" font-size="18.5">Late diagnosis of</text>
<text transform="translate(41.7 378) rotate(-90)" font-size="18.3">AIDS deaths</text>
<text transform="translate(23 591) rotate(-90)" font-size="18.3">AIDS deaths</text>
</g>
<rect x="233.2" y="60.3" width="20.8" height="31.2" fill="#fff" stroke="#222" stroke-width="1"/>
<text transform="translate(243.6 82.7) scale(1.00 1)" font-size="17.4" font-weight="bold" text-anchor="middle">A</text>
<rect x="459.1" y="60.3" width="20.8" height="31.2" fill="#fff" stroke="#222" stroke-width="1"/>
<text transform="translate(469.7 82.7) scale(0.86 1)" font-size="17.4" font-weight="bold" text-anchor="middle">B</text>
<rect x="233.2" y="285.9" width="20.8" height="31.2" fill="#fff" stroke="#222" stroke-width="1"/>
<text transform="translate(243.9 308.3) scale(0.87 1)" font-size="17.4" font-weight="bold" text-anchor="middle">C</text>
<rect x="459.1" y="285.9" width="20.8" height="31.2" fill="#fff" stroke="#222" stroke-width="1"/>
<text transform="translate(469.7 308.3) scale(0.97 1)" font-size="17.4" font-weight="bold" text-anchor="middle">D</text>
<rect x="233.2" y="502.2" width="20.8" height="31.2" fill="#fff" stroke="#222" stroke-width="1"/>
<text transform="translate(244.0 524.0) scale(0.78 1)" font-size="17.4" font-weight="bold" text-anchor="middle">E</text>
<g transform="translate(594.7 103.4)">
<circle r="30.8" fill="#fff" stroke="#000" stroke-width="1.1"/>
<circle r="28.3" fill="none" stroke="#000" stroke-width="0.9"/>
<line x1="0.00" y1="-11.50" x2="0.00" y2="-28.30" stroke="#000" stroke-width="0.7"/>
<line x1="4.40" y1="-10.62" x2="10.83" y2="-26.15" stroke="#000" stroke-width="0.7"/>
<line x1="8.13" y1="-8.13" x2="20.01" y2="-20.01" stroke="#000" stroke-width="0.7"/>
<line x1="10.62" y1="-4.40" x2="26.15" y2="-10.83" stroke="#000" stroke-width="0.7"/>
<line x1="11.50" y1="-0.00" x2="28.30" y2="-0.00" stroke="#000" stroke-width="0.7"/>
<line x1="10.62" y1="4.40" x2="26.15" y2="10.83" stroke="#000" stroke-width="0.7"/>
<line x1="8.13" y1="8.13" x2="20.01" y2="20.01" stroke="#000" stroke-width="0.7"/>
<line x1="4.40" y1="10.62" x2="10.83" y2="26.15" stroke="#000" stroke-width="0.7"/>
<line x1="0.00" y1="11.50" x2="0.00" y2="28.30" stroke="#000" stroke-width="0.7"/>
<line x1="-4.40" y1="10.62" x2="-10.83" y2="26.15" stroke="#000" stroke-width="0.7"/>
<line x1="-8.13" y1="8.13" x2="-20.01" y2="20.01" stroke="#000" stroke-width="0.7"/>
<line x1="-10.62" y1="4.40" x2="-26.15" y2="10.83" stroke="#000" stroke-width="0.7"/>
<line x1="-11.50" y1="0.00" x2="-28.30" y2="0.00" stroke="#000" stroke-width="0.7"/>
<line x1="-10.62" y1="-4.40" x2="-26.15" y2="-10.83" stroke="#000" stroke-width="0.7"/>
<line x1="-8.13" y1="-8.13" x2="-20.01" y2="-20.01" stroke="#000" stroke-width="0.7"/>
<line x1="-4.40" y1="-10.62" x2="-10.83" y2="-26.15" stroke="#000" stroke-width="0.7"/>
<g transform="rotate(45)"><path d="M0 -25 L5 -10.2 L0 -7.5 Z" fill="#000"/><path d="M0 -25 L-5 -10.2 L0 -7.5 Z" fill="#fff" stroke="#000" stroke-width="0.5"/><path d="M0 -25 L5 -10.2 L0 -7.5 Z" fill="#000"/></g>
<g transform="rotate(135)"><path d="M0 -25 L5 -10.2 L0 -7.5 Z" fill="#000"/><path d="M0 -25 L-5 -10.2 L0 -7.5 Z" fill="#fff" stroke="#000" stroke-width="0.5"/><path d="M0 -25 L5 -10.2 L0 -7.5 Z" fill="#000"/></g>
<g transform="rotate(225)"><path d="M0 -25 L5 -10.2 L0 -7.5 Z" fill="#000"/><path d="M0 -25 L-5 -10.2 L0 -7.5 Z" fill="#fff" stroke="#000" stroke-width="0.5"/><path d="M0 -25 L5 -10.2 L0 -7.5 Z" fill="#000"/></g>
<g transform="rotate(315)"><path d="M0 -25 L5 -10.2 L0 -7.5 Z" fill="#000"/><path d="M0 -25 L-5 -10.2 L0 -7.5 Z" fill="#fff" stroke="#000" stroke-width="0.5"/><path d="M0 -25 L5 -10.2 L0 -7.5 Z" fill="#000"/></g>
<g transform="rotate(0)"><path d="M0 -26 L-5.1 -10.6 L0 -7.5 Z" fill="#fff" stroke="#000" stroke-width="0.5"/><path d="M0 -26 L5.1 -10.6 L0 -7.5 Z" fill="#000" stroke="#000" stroke-width="0.5"/></g>
<g transform="rotate(90)"><path d="M0 -26 L-5.1 -10.6 L0 -7.5 Z" fill="#fff" stroke="#000" stroke-width="0.5"/><path d="M0 -26 L5.1 -10.6 L0 -7.5 Z" fill="#000" stroke="#000" stroke-width="0.5"/></g>
<g transform="rotate(180)"><path d="M0 -26 L-5.1 -10.6 L0 -7.5 Z" fill="#fff" stroke="#000" stroke-width="0.5"/><path d="M0 -26 L5.1 -10.6 L0 -7.5 Z" fill="#000" stroke="#000" stroke-width="0.5"/></g>
<g transform="rotate(270)"><path d="M0 -26 L-5.1 -10.6 L0 -7.5 Z" fill="#fff" stroke="#000" stroke-width="0.5"/><path d="M0 -26 L5.1 -10.6 L0 -7.5 Z" fill="#000" stroke="#000" stroke-width="0.5"/></g>
<circle r="11.6" fill="#fff" stroke="#000" stroke-width="0.9"/>
<circle r="9.6" fill="none" stroke="#000" stroke-width="0.7"/>
<line x1="0.00" y1="-5.00" x2="0.00" y2="-11.60" stroke="#000" stroke-width="0.45"/>
<line x1="3.54" y1="-3.54" x2="8.20" y2="-8.20" stroke="#000" stroke-width="0.45"/>
<line x1="5.00" y1="-0.00" x2="11.60" y2="-0.00" stroke="#000" stroke-width="0.45"/>
<line x1="3.54" y1="3.54" x2="8.20" y2="8.20" stroke="#000" stroke-width="0.45"/>
<line x1="0.00" y1="5.00" x2="0.00" y2="11.60" stroke="#000" stroke-width="0.45"/>
<line x1="-3.54" y1="3.54" x2="-8.20" y2="8.20" stroke="#000" stroke-width="0.45"/>
<line x1="-5.00" y1="0.00" x2="-11.60" y2="0.00" stroke="#000" stroke-width="0.45"/>
<line x1="-3.54" y1="-3.54" x2="-8.20" y2="-8.20" stroke="#000" stroke-width="0.45"/>
<circle r="5.5" fill="#000"/>
<path transform="rotate(0)" d="M0 -38.5 L3.1 -30.6 Q0 -32 -3.1 -30.6 Z" fill="#000"/>
<path transform="rotate(90)" d="M0 -38.5 L3.1 -30.6 Q0 -32 -3.1 -30.6 Z" fill="#000"/>
<path transform="rotate(180)" d="M0 -38.5 L3.1 -30.6 Q0 -32 -3.1 -30.6 Z" fill="#000"/>
<path transform="rotate(270)" d="M0 -38.5 L3.1 -30.6 Q0 -32 -3.1 -30.6 Z" fill="#000"/>
</g>
<g font-weight="bold" font-size="15.6" text-anchor="middle"><text x="595.2" y="60.6">N</text><text x="595.1" y="158.4">S</text><text x="545.5" y="109.8">W</text><text x="641.7" y="109.8">E</text></g>
<rect x="503" y="239" width="182" height="223" fill="#f5f5f5"/>
<text x="511.8" y="262" font-size="16.2" font-weight="bold">Percentage of change</text>
<rect x="511.6" y="274.8" width="19.6" height="10.8" fill="#FF0000"/>
<text x="537.5" y="285.7" font-size="15">-100.00 to -75.00</text>
<rect x="511.6" y="295.4" width="19.6" height="10.8" fill="#FF0000"/>
<text x="537.5" y="306.3" font-size="15">-74.99 to -50.00</text>
<rect x="511.6" y="316.0" width="19.6" height="10.8" fill="#FF6600"/>
<text x="537.5" y="326.9" font-size="15">-49.99 to -25.00</text>
<rect x="511.6" y="336.6" width="19.6" height="10.8" fill="#FFB800"/>
<text x="537.5" y="347.5" font-size="15">-24.99 to -0.01</text>
<rect x="511.6" y="357.2" width="19.6" height="10.8" fill="#FFFF00"/>
<text x="537.5" y="368.1" font-size="15">0.00</text>
<rect x="511.6" y="377.8" width="19.6" height="10.8" fill="#D7F50A"/>
<text x="537.5" y="388.6" font-size="15">0.01 to 25.00</text>
<rect x="511.6" y="398.3" width="19.6" height="10.8" fill="#A0E00A"/>
<text x="537.5" y="409.2" font-size="15">25.01 to 50.00</text>
<rect x="511.6" y="418.9" width="19.6" height="10.8" fill="#60D010"/>
<text x="537.5" y="429.8" font-size="15">50.01 to 75.00</text>
<rect x="511.6" y="439.5" width="19.6" height="10.8" fill="#22BB18"/>
<text x="537.5" y="450.4" font-size="15">&gt;75.00</text>
<rect x="344.5" y="552.2" width="239.5" height="13.2" fill="#fff" stroke="#000" stroke-width="1"/>
<rect x="344.5" y="552.2" width="26.6" height="6.6" fill="#000"/>
<rect x="371.1" y="558.8" width="26.6" height="6.6" fill="#000"/>
<rect x="397.7" y="552.2" width="26.6" height="6.6" fill="#000"/>
<rect x="424.3" y="558.8" width="79.8" height="6.6" fill="#000"/>
<rect x="504.1" y="552.2" width="79.9" height="6.6" fill="#000"/>
<g font-size="13.6" text-anchor="middle">
<text x="344.5" y="545.0">0</text>
<text x="384.3" y="545.0">900</text>
<text x="424.6" y="545.0">1.8</text>
<text x="504.6" y="545.0">3.6</text>
<text x="584.4" y="545.0">5.4</text>
</g>
<text x="588.4" y="565.4" font-size="15.4">km</text>
<rect x="338.9" y="614.6" width="274.6" height="66.6" fill="#fff" stroke="#222" stroke-width="1"/>
<g font-size="12.45" font-weight="bold" text-anchor="middle">
<text x="476.2" y="631.4">Geographic Projection System (LatLong)</text>
<text x="476.2" y="645.4">Geodesic Reference System (SIRGAS 2000)</text>
<text x="476.2" y="659.4">Digital Base Vector (IBGE 2021)</text>
<text x="476.2" y="673.4">Production (NISC and NUPEGEOS/UFS)</text>
</g>
</svg></body></html>
